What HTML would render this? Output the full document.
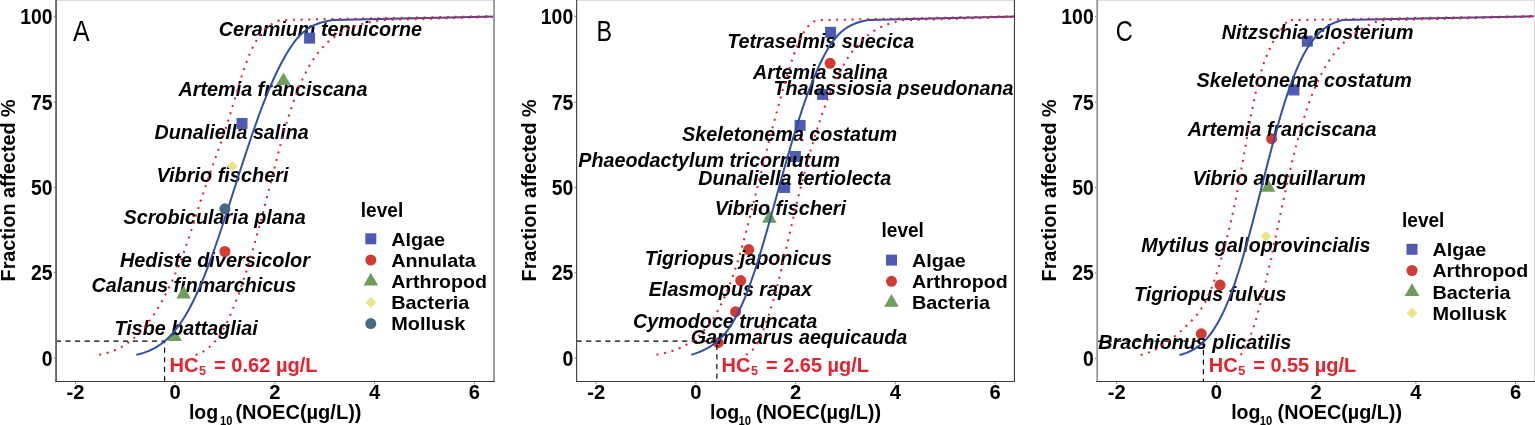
<!DOCTYPE html>
<html lang="en">
<head>
<meta charset="utf-8">
<title>Species sensitivity distributions</title>
<style>
html,body{margin:0;padding:0;background:#fff;}
body{width:1535px;height:425px;overflow:hidden;}
svg{display:block;}
text{white-space:pre;}
</style>
</head>
<body>
<svg width="1535" height="425" viewBox="0 0 1535 425">
<rect x="0" y="0" width="1535" height="425" fill="#ffffff"/>
<g>
<line x1="75.48" y1="381.80" x2="75.48" y2="384.10" stroke="#9a9a9a" stroke-width="1"/>
<text x="66.50" y="399.2" font-family="Liberation Sans, Arial, Helvetica, sans-serif" font-weight="bold" font-size="19.80" fill="#000" textLength="17.96" lengthAdjust="spacingAndGlyphs">-2</text>
<line x1="175.20" y1="381.80" x2="175.20" y2="384.10" stroke="#9a9a9a" stroke-width="1"/>
<text x="169.58" y="399.2" font-family="Liberation Sans, Arial, Helvetica, sans-serif" font-weight="bold" font-size="19.80" fill="#000" textLength="11.23" lengthAdjust="spacingAndGlyphs">0</text>
<line x1="274.92" y1="381.80" x2="274.92" y2="384.10" stroke="#9a9a9a" stroke-width="1"/>
<text x="269.30" y="399.2" font-family="Liberation Sans, Arial, Helvetica, sans-serif" font-weight="bold" font-size="19.80" fill="#000" textLength="11.23" lengthAdjust="spacingAndGlyphs">2</text>
<line x1="374.64" y1="381.80" x2="374.64" y2="384.10" stroke="#9a9a9a" stroke-width="1"/>
<text x="369.02" y="399.2" font-family="Liberation Sans, Arial, Helvetica, sans-serif" font-weight="bold" font-size="19.80" fill="#000" textLength="11.23" lengthAdjust="spacingAndGlyphs">4</text>
<line x1="474.36" y1="381.80" x2="474.36" y2="384.10" stroke="#9a9a9a" stroke-width="1"/>
<text x="468.74" y="399.2" font-family="Liberation Sans, Arial, Helvetica, sans-serif" font-weight="bold" font-size="19.80" fill="#000" textLength="11.23" lengthAdjust="spacingAndGlyphs">6</text>
<line x1="53.80" y1="358.20" x2="55.30" y2="358.20" stroke="#777" stroke-width="1"/>
<text x="41.71" y="365.80" font-family="Liberation Sans, Arial, Helvetica, sans-serif" font-weight="bold" font-size="21.30" fill="#000" textLength="10.79" lengthAdjust="spacingAndGlyphs">0</text>
<line x1="53.80" y1="272.85" x2="55.30" y2="272.85" stroke="#777" stroke-width="1"/>
<text x="30.93" y="280.45" font-family="Liberation Sans, Arial, Helvetica, sans-serif" font-weight="bold" font-size="21.30" fill="#000" textLength="21.57" lengthAdjust="spacingAndGlyphs">25</text>
<line x1="53.80" y1="187.50" x2="55.30" y2="187.50" stroke="#777" stroke-width="1"/>
<text x="30.93" y="195.10" font-family="Liberation Sans, Arial, Helvetica, sans-serif" font-weight="bold" font-size="21.30" fill="#000" textLength="21.57" lengthAdjust="spacingAndGlyphs">50</text>
<line x1="53.80" y1="102.15" x2="55.30" y2="102.15" stroke="#777" stroke-width="1"/>
<text x="30.93" y="109.75" font-family="Liberation Sans, Arial, Helvetica, sans-serif" font-weight="bold" font-size="21.30" fill="#000" textLength="21.57" lengthAdjust="spacingAndGlyphs">75</text>
<line x1="53.80" y1="16.80" x2="55.30" y2="16.80" stroke="#777" stroke-width="1"/>
<text x="20.14" y="24.40" font-family="Liberation Sans, Arial, Helvetica, sans-serif" font-weight="bold" font-size="21.30" fill="#000" textLength="32.36" lengthAdjust="spacingAndGlyphs">100</text>
<text x="188.90" y="418.7" font-family="Liberation Sans, Arial, Helvetica, sans-serif" font-weight="bold" font-size="19.30" fill="#000" textLength="29.3" lengthAdjust="spacingAndGlyphs">log</text>
<text x="220.00" y="425.4" font-family="Liberation Sans, Arial, Helvetica, sans-serif" font-weight="bold" font-size="12.8" fill="#000" textLength="12.4" lengthAdjust="spacingAndGlyphs">10</text>
<text x="235.40" y="418.7" font-family="Liberation Sans, Arial, Helvetica, sans-serif" font-weight="bold" font-size="19.30" fill="#000" textLength="126.1" lengthAdjust="spacingAndGlyphs">(NOEC(µg/L))</text>
<text transform="translate(14.80,190.4) rotate(-90)" text-anchor="middle" font-family="Liberation Sans, Arial, Helvetica, sans-serif" font-weight="bold" font-size="20.80" fill="#000" textLength="182" lengthAdjust="spacingAndGlyphs">Fraction affected %</text>
<clipPath id="clipA"><rect x="55.80" y="0.50" width="438.60" height="380.80"/></clipPath>
<g clip-path="url(#clipA)">
<text x="73.00" y="40.6" font-family="Liberation Sans, Arial, Helvetica, sans-serif" font-size="29.6" fill="#000" textLength="16.60" lengthAdjust="spacingAndGlyphs">A</text>
<polygon points="174.60,328.43 167.30,341.08 181.90,341.08" fill="#6f9d5c"/>
<text x="218.70" y="35.80" font-family="Liberation Sans, Arial, Helvetica, sans-serif" font-weight="bold" font-style="italic" font-size="19.70" fill="#000" textLength="203.30" lengthAdjust="spacingAndGlyphs">Ceramium tenuicorne</text>
<text x="178.60" y="96.40" font-family="Liberation Sans, Arial, Helvetica, sans-serif" font-weight="bold" font-style="italic" font-size="19.70" fill="#000" textLength="188.80" lengthAdjust="spacingAndGlyphs">Artemia franciscana</text>
<text x="154.50" y="138.70" font-family="Liberation Sans, Arial, Helvetica, sans-serif" font-weight="bold" font-style="italic" font-size="19.70" fill="#000" textLength="154.20" lengthAdjust="spacingAndGlyphs">Dunaliella salina</text>
<text x="156.50" y="182.00" font-family="Liberation Sans, Arial, Helvetica, sans-serif" font-weight="bold" font-style="italic" font-size="19.70" fill="#000" textLength="132.00" lengthAdjust="spacingAndGlyphs">Vibrio fischeri</text>
<text x="123.50" y="224.40" font-family="Liberation Sans, Arial, Helvetica, sans-serif" font-weight="bold" font-style="italic" font-size="19.70" fill="#000" textLength="182.30" lengthAdjust="spacingAndGlyphs">Scrobicularia plana</text>
<text x="119.90" y="267.40" font-family="Liberation Sans, Arial, Helvetica, sans-serif" font-weight="bold" font-style="italic" font-size="19.70" fill="#000" textLength="190.00" lengthAdjust="spacingAndGlyphs">Hediste diversicolor</text>
<text x="91.60" y="291.50" font-family="Liberation Sans, Arial, Helvetica, sans-serif" font-weight="bold" font-style="italic" font-size="19.70" fill="#000" textLength="204.50" lengthAdjust="spacingAndGlyphs">Calanus finmarchicus</text>
<text x="114.50" y="334.50" font-family="Liberation Sans, Arial, Helvetica, sans-serif" font-weight="bold" font-style="italic" font-size="19.70" fill="#000" textLength="143.30" lengthAdjust="spacingAndGlyphs">Tisbe battagliai</text>
<path d="M55.80,341.13 H164.60 V381.30" fill="none" stroke="#000" stroke-width="1.15" stroke-dasharray="5.2 4.4"/>
<path d="M136.31,354.80 L137.02,354.64 L137.73,354.48 L138.44,354.30 L139.15,354.13 L139.86,353.94 L140.57,353.75 L141.27,353.55 L141.98,353.34 L142.69,353.13 L143.39,352.90 L144.10,352.67 L144.81,352.43 L145.52,352.18 L146.22,351.93 L146.93,351.66 L147.63,351.38 L148.34,351.10 L149.05,350.80 L149.75,350.49 L150.46,350.18 L151.17,349.85 L151.87,349.51 L152.58,349.16 L153.28,348.80 L153.99,348.42 L154.70,348.04 L155.40,347.64 L156.11,347.23 L156.81,346.80 L157.52,346.37 L158.22,345.91 L158.93,345.45 L159.64,344.97 L160.34,344.48 L161.04,343.98 L161.71,343.48 L162.37,342.98 L163.01,342.48 L163.64,341.98 L164.24,341.48 L164.84,340.98 L165.42,340.48 L165.99,339.98 L166.55,339.48 L167.09,338.98 L167.63,338.48 L168.15,337.98 L168.66,337.48 L169.17,336.98 L169.66,336.48 L170.15,335.98 L170.63,335.48 L171.10,334.98 L171.56,334.48 L172.02,333.98 L172.47,333.48 L172.91,332.98 L173.34,332.48 L173.77,331.98 L174.20,331.48 L174.61,330.98 L175.02,330.48 L175.43,329.98 L175.83,329.48 L176.23,328.98 L176.62,328.48 L177.00,327.98 L177.38,327.48 L177.76,326.98 L178.13,326.48 L178.50,325.98 L178.86,325.48 L179.22,324.98 L179.58,324.48 L179.93,323.98 L180.28,323.48 L180.62,322.98 L180.96,322.48 L181.30,321.98 L181.64,321.48 L181.97,320.98 L182.30,320.48 L182.62,319.98 L182.94,319.48 L183.26,318.98 L183.58,318.48 L183.89,317.98 L184.21,317.48 L184.51,316.98 L184.82,316.48 L185.12,315.98 L185.42,315.48 L185.72,314.98 L186.02,314.48 L186.31,313.98 L186.61,313.48 L186.89,312.98 L187.18,312.48 L187.47,311.98 L187.75,311.48 L188.03,310.98 L188.31,310.48 L188.59,309.98 L188.86,309.48 L189.14,308.98 L189.41,308.48 L189.68,307.98 L189.95,307.48 L190.21,306.98 L190.48,306.48 L190.74,305.98 L191.00,305.48 L191.26,304.98 L191.52,304.48 L191.78,303.98 L192.03,303.48 L192.29,302.98 L192.54,302.48 L192.79,301.98 L193.04,301.48 L193.29,300.98 L193.54,300.48 L193.78,299.98 L194.02,299.48 L194.27,298.98 L194.51,298.48 L194.75,297.98 L194.99,297.48 L195.23,296.98 L195.46,296.48 L195.70,295.98 L195.93,295.48 L196.17,294.98 L196.40,294.48 L196.63,293.98 L196.86,293.48 L197.09,292.98 L197.32,292.48 L197.54,291.98 L197.77,291.48 L198.00,290.98 L198.22,290.48 L198.44,289.98 L198.66,289.48 L198.89,288.98 L199.11,288.48 L199.33,287.98 L199.54,287.48 L199.76,286.98 L199.98,286.48 L200.19,285.98 L200.41,285.48 L200.62,284.98 L200.84,284.48 L201.05,283.98 L201.26,283.48 L201.47,282.98 L201.68,282.48 L201.89,281.98 L202.10,281.48 L202.31,280.98 L202.51,280.48 L202.72,279.98 L202.93,279.48 L203.13,278.98 L203.34,278.48 L203.54,277.98 L203.74,277.48 L203.95,276.98 L204.15,276.48 L204.35,275.98 L204.55,275.48 L204.75,274.98 L204.95,274.48 L205.15,273.98 L205.34,273.48 L205.54,272.98 L205.74,272.48 L205.93,271.98 L206.13,271.48 L206.33,270.98 L206.52,270.48 L206.71,269.98 L206.91,269.48 L207.10,268.98 L207.29,268.48 L207.48,267.98 L207.68,267.48 L207.87,266.98 L208.06,266.48 L208.25,265.98 L208.44,265.48 L208.62,264.98 L208.81,264.48 L209.00,263.98 L209.19,263.48 L209.38,262.98 L209.56,262.48 L209.75,261.98 L209.93,261.48 L210.12,260.98 L210.30,260.48 L210.49,259.98 L210.67,259.48 L210.86,258.98 L211.04,258.48 L211.22,257.98 L211.40,257.48 L211.59,256.98 L211.77,256.48 L211.95,255.98 L212.13,255.48 L212.31,254.98 L212.49,254.48 L212.67,253.98 L212.85,253.48 L213.03,252.98 L213.21,252.48 L213.38,251.98 L213.56,251.48 L213.74,250.98 L213.92,250.48 L214.09,249.98 L214.27,249.48 L214.45,248.98 L214.62,248.48 L214.80,247.98 L214.97,247.48 L215.15,246.98 L215.32,246.48 L215.50,245.98 L215.67,245.48 L215.85,244.98 L216.02,244.48 L216.19,243.98 L216.37,243.48 L216.54,242.98 L216.71,242.48 L216.88,241.98 L217.06,241.48 L217.23,240.98 L217.40,240.48 L217.57,239.98 L217.74,239.48 L217.91,238.98 L218.08,238.48 L218.25,237.98 L218.42,237.48 L218.59,236.98 L218.76,236.48 L218.93,235.98 L219.10,235.48 L219.27,234.98 L219.44,234.48 L219.61,233.98 L219.78,233.48 L219.95,232.98 L220.11,232.48 L220.28,231.98 L220.45,231.48 L220.62,230.98 L220.78,230.48 L220.95,229.98 L221.12,229.48 L221.28,228.98 L221.45,228.48 L221.62,227.98 L221.78,227.48 L221.95,226.98 L222.11,226.48 L222.28,225.98 L222.44,225.48 L222.61,224.98 L222.78,224.48 L222.94,223.98 L223.11,223.48 L223.27,222.98 L223.43,222.48 L223.60,221.98 L223.76,221.48 L223.93,220.98 L224.09,220.48 L224.26,219.98 L224.42,219.48 L224.58,218.98 L224.75,218.48 L224.91,217.98 L225.07,217.48 L225.24,216.98 L225.40,216.48 L225.56,215.98 L225.72,215.48 L225.89,214.98 L226.05,214.48 L226.21,213.98 L226.37,213.48 L226.54,212.98 L226.70,212.48 L226.86,211.98 L227.02,211.48 L227.19,210.98 L227.35,210.48 L227.51,209.98 L227.67,209.48 L227.83,208.98 L227.99,208.48 L228.16,207.98 L228.32,207.48 L228.48,206.98 L228.64,206.48 L228.80,205.98 L228.96,205.48 L229.12,204.98 L229.28,204.48 L229.45,203.98 L229.61,203.48 L229.77,202.98 L229.93,202.48 L230.09,201.98 L230.25,201.48 L230.41,200.98 L230.57,200.48 L230.73,199.98 L230.89,199.48 L231.05,198.98 L231.21,198.48 L231.37,197.98 L231.54,197.48 L231.70,196.98 L231.86,196.48 L232.02,195.98 L232.18,195.48 L232.34,194.98 L232.50,194.48 L232.66,193.98 L232.82,193.48 L232.98,192.98 L233.14,192.48 L233.30,191.98 L233.46,191.48 L233.62,190.98 L233.78,190.48 L233.94,189.98 L234.10,189.48 L234.26,188.98 L234.42,188.48 L234.58,187.98 L234.74,187.48 L234.90,186.98 L235.06,186.48 L235.22,185.98 L235.39,185.48 L235.55,184.98 L235.71,184.48 L235.87,183.98 L236.03,183.48 L236.19,182.98 L236.35,182.48 L236.51,181.98 L236.67,181.48 L236.83,180.98 L236.99,180.48 L237.15,179.98 L237.31,179.48 L237.47,178.98 L237.63,178.48 L237.80,177.98 L237.96,177.48 L238.12,176.98 L238.28,176.48 L238.44,175.98 L238.60,175.48 L238.76,174.98 L238.92,174.48 L239.08,173.98 L239.25,173.48 L239.41,172.98 L239.57,172.48 L239.73,171.98 L239.89,171.48 L240.05,170.98 L240.22,170.48 L240.38,169.98 L240.54,169.48 L240.70,168.98 L240.86,168.48 L241.03,167.98 L241.19,167.48 L241.35,166.98 L241.51,166.48 L241.67,165.98 L241.84,165.48 L242.00,164.98 L242.16,164.48 L242.33,163.98 L242.49,163.48 L242.65,162.98 L242.81,162.48 L242.98,161.98 L243.14,161.48 L243.30,160.98 L243.47,160.48 L243.63,159.98 L243.80,159.48 L243.96,158.98 L244.12,158.48 L244.29,157.98 L244.45,157.48 L244.62,156.98 L244.78,156.48 L244.94,155.98 L245.11,155.48 L245.27,154.98 L245.44,154.48 L245.60,153.98 L245.77,153.48 L245.93,152.98 L246.10,152.48 L246.27,151.98 L246.43,151.48 L246.60,150.98 L246.76,150.48 L246.93,149.98 L247.10,149.48 L247.26,148.98 L247.43,148.48 L247.60,147.98 L247.76,147.48 L247.93,146.98 L248.10,146.48 L248.27,145.98 L248.43,145.48 L248.60,144.98 L248.77,144.48 L248.94,143.98 L249.11,143.48 L249.27,142.98 L249.44,142.48 L249.61,141.98 L249.78,141.48 L249.95,140.98 L250.12,140.48 L250.29,139.98 L250.46,139.48 L250.63,138.98 L250.80,138.48 L250.97,137.98 L251.14,137.48 L251.31,136.98 L251.48,136.48 L251.65,135.98 L251.83,135.48 L252.00,134.98 L252.17,134.48 L252.34,133.98 L252.52,133.48 L252.69,132.98 L252.86,132.48 L253.03,131.98 L253.21,131.48 L253.38,130.98 L253.56,130.48 L253.73,129.98 L253.90,129.48 L254.08,128.98 L254.25,128.48 L254.43,127.98 L254.60,127.48 L254.78,126.98 L254.96,126.48 L255.13,125.98 L255.31,125.48 L255.49,124.98 L255.66,124.48 L255.84,123.98 L256.02,123.48 L256.20,122.98 L256.38,122.48 L256.55,121.98 L256.73,121.48 L256.91,120.98 L257.09,120.48 L257.27,119.98 L257.45,119.48 L257.63,118.98 L257.81,118.48 L258.00,117.98 L258.18,117.48 L258.36,116.98 L258.54,116.48 L258.72,115.98 L258.91,115.48 L259.09,114.98 L259.28,114.48 L259.46,113.98 L259.64,113.48 L259.83,112.98 L260.01,112.48 L260.20,111.98 L260.39,111.48 L260.57,110.98 L260.76,110.48 L260.95,109.98 L261.13,109.48 L261.32,108.98 L261.51,108.48 L261.70,107.98 L261.89,107.48 L262.08,106.98 L262.27,106.48 L262.46,105.98 L262.65,105.48 L262.84,104.98 L263.03,104.48 L263.23,103.98 L263.42,103.48 L263.61,102.98 L263.81,102.48 L264.00,101.98 L264.20,101.48 L264.39,100.98 L264.59,100.48 L264.78,99.98 L264.98,99.48 L265.18,98.98 L265.38,98.48 L265.58,97.98 L265.77,97.48 L265.97,96.98 L266.17,96.48 L266.38,95.98 L266.58,95.48 L266.78,94.98 L266.98,94.48 L267.18,93.98 L267.39,93.48 L267.59,92.98 L267.80,92.48 L268.00,91.98 L268.21,91.48 L268.42,90.98 L268.62,90.48 L268.83,89.98 L269.04,89.48 L269.25,88.98 L269.46,88.48 L269.67,87.98 L269.88,87.48 L270.10,86.98 L270.31,86.48 L270.52,85.98 L270.74,85.48 L270.95,84.98 L271.17,84.48 L271.39,83.98 L271.60,83.48 L271.82,82.98 L272.04,82.48 L272.26,81.98 L272.48,81.48 L272.70,80.98 L272.93,80.48 L273.15,79.98 L273.37,79.48 L273.60,78.98 L273.83,78.48 L274.05,77.98 L274.28,77.48 L274.51,76.98 L274.74,76.48 L274.97,75.98 L275.20,75.48 L275.44,74.98 L275.67,74.48 L275.91,73.98 L276.14,73.48 L276.38,72.98 L276.62,72.48 L276.86,71.98 L277.10,71.48 L277.34,70.98 L277.58,70.48 L277.83,69.98 L278.07,69.48 L278.32,68.98 L278.57,68.48 L278.81,67.98 L279.06,67.48 L279.32,66.98 L279.57,66.48 L279.82,65.98 L280.08,65.48 L280.34,64.98 L280.60,64.48 L280.86,63.98 L281.12,63.48 L281.38,62.98 L281.64,62.48 L281.91,61.98 L282.18,61.48 L282.45,60.98 L282.72,60.48 L282.99,59.98 L283.27,59.48 L283.54,58.98 L283.82,58.48 L284.10,57.98 L284.38,57.48 L284.67,56.98 L284.95,56.48 L285.24,55.98 L285.53,55.48 L285.82,54.98 L286.11,54.48 L286.41,53.98 L286.71,53.48 L287.01,52.98 L287.31,52.48 L287.62,51.98 L287.93,51.48 L288.24,50.98 L288.55,50.48 L288.87,49.98 L289.19,49.48 L289.51,48.98 L289.83,48.48 L290.16,47.98 L290.49,47.48 L290.82,46.98 L291.16,46.48 L291.50,45.98 L291.84,45.48 L292.19,44.98 L292.55,44.48 L292.90,43.98 L293.26,43.48 L293.63,42.98 L294.00,42.48 L294.38,41.98 L294.76,41.48 L295.15,40.98 L295.54,40.48 L295.94,39.98 L296.35,39.48 L296.76,38.98 L297.18,38.48 L297.61,37.98 L298.05,37.48 L298.50,36.98 L298.96,36.48 L299.42,35.98 L299.90,35.48 L300.39,34.98 L300.89,34.48 L301.40,33.98 L301.93,33.48 L302.47,32.98 L303.03,32.48 L303.61,31.98 L304.20,31.48 L304.82,30.98 L305.45,30.48 L306.12,29.98 L306.80,29.48 L307.52,28.98 L308.24,28.49 L308.97,28.02 L309.70,27.58 L310.42,27.15 L311.15,26.74 L311.88,26.35 L312.60,25.98 L313.33,25.62 L314.05,25.27 L314.78,24.95 L315.50,24.63 L316.23,24.33 L316.95,24.05 L317.68,23.77 L318.40,23.51 L319.13,23.26 L319.85,23.02 L320.57,22.79 L321.30,22.57 L322.02,22.36 L322.74,22.16 L323.46,21.97 L324.18,21.79 L324.90,21.61 L325.62,21.44 L326.34,21.28 L327.06,21.13 L327.78,20.98 L328.50,20.84 L329.22,20.70 L329.94,20.57 L330.66,20.44 L331.37,20.32 L332.09,20.21 L332.80,20.10 L333.45,20.00 L560.40,14.95" fill="none" stroke-linejoin="round" stroke="#2f4fa8" stroke-width="2"/>
<path d="M99.21,354.80 L99.92,354.66 L100.63,354.51 L101.34,354.36 L102.05,354.20 L102.76,354.03 L103.47,353.86 L104.18,353.69 L104.89,353.50 L105.60,353.31 L106.31,353.12 L107.01,352.92 L107.72,352.71 L108.43,352.49 L109.14,352.27 L109.85,352.04 L110.55,351.80 L111.26,351.55 L111.97,351.30 L112.67,351.03 L113.38,350.76 L114.09,350.48 L114.80,350.19 L115.50,349.90 L116.21,349.59 L116.92,349.27 L117.62,348.95 L118.33,348.61 L119.04,348.27 L119.74,347.91 L120.45,347.54 L121.16,347.16 L121.87,346.78 L122.57,346.38 L123.28,345.97 L123.99,345.54 L124.69,345.11 L125.40,344.66 L126.11,344.20 L126.81,343.73 L127.52,343.25 L128.23,342.75 L128.92,342.25 L129.60,341.75 L130.26,341.25 L130.90,340.75 L131.53,340.25 L132.15,339.75 L132.76,339.25 L133.35,338.75 L133.93,338.25 L134.50,337.75 L135.06,337.25 L135.61,336.75 L136.15,336.25 L136.68,335.75 L137.20,335.25 L137.71,334.75 L138.22,334.25 L138.71,333.75 L139.20,333.25 L139.68,332.75 L140.16,332.25 L140.63,331.75 L141.09,331.25 L141.54,330.75 L141.99,330.25 L142.44,329.75 L142.88,329.25 L143.31,328.75 L143.74,328.25 L144.16,327.75 L144.58,327.25 L144.99,326.75 L145.40,326.25 L145.80,325.75 L146.20,325.25 L146.59,324.75 L146.98,324.25 L147.37,323.75 L147.75,323.25 L148.13,322.75 L148.51,322.25 L148.88,321.75 L149.25,321.25 L149.61,320.75 L149.98,320.25 L150.33,319.75 L150.69,319.25 L151.04,318.75 L151.39,318.25 L151.74,317.75 L152.08,317.25 L152.42,316.75 L152.76,316.25 L153.09,315.75 L153.43,315.25 L153.76,314.75 L154.08,314.25 L154.41,313.75 L154.73,313.25 L155.05,312.75 L155.37,312.25 L155.69,311.75 L156.00,311.25 L156.31,310.75 L156.62,310.25 L156.93,309.75 L157.24,309.25 L157.54,308.75 L157.84,308.25 L158.14,307.75 L158.44,307.25 L158.74,306.75 L159.03,306.25 L159.32,305.75 L159.61,305.25 L159.90,304.75 L160.19,304.25 L160.48,303.75 L160.76,303.25 L161.04,302.75 L161.33,302.25 L161.61,301.75 L161.88,301.25 L162.16,300.75 L162.44,300.25 L162.71,299.75 L162.98,299.25 L163.26,298.75 L163.53,298.25 L163.80,297.75 L164.06,297.25 L164.33,296.75 L164.59,296.25 L164.86,295.75 L165.12,295.25 L165.38,294.75 L165.64,294.25 L165.90,293.75 L166.16,293.25 L166.41,292.75 L166.67,292.25 L166.92,291.75 L167.17,291.25 L167.43,290.75 L167.68,290.25 L167.92,289.75 L168.17,289.25 L168.42,288.75 L168.66,288.25 L168.91,287.75 L169.15,287.25 L169.39,286.75 L169.64,286.25 L169.88,285.75 L170.11,285.25 L170.35,284.75 L170.59,284.25 L170.82,283.75 L171.06,283.25 L171.29,282.75 L171.53,282.25 L171.76,281.75 L171.99,281.25 L172.22,280.75 L172.45,280.25 L172.67,279.75 L172.90,279.25 L173.12,278.75 L173.35,278.25 L173.57,277.75 L173.80,277.25 L174.02,276.75 L174.24,276.25 L174.46,275.75 L174.68,275.25 L174.89,274.75 L175.11,274.25 L175.33,273.75 L175.54,273.25 L175.76,272.75 L175.97,272.25 L176.18,271.75 L176.39,271.25 L176.60,270.75 L176.81,270.25 L177.02,269.75 L177.23,269.25 L177.44,268.75 L177.64,268.25 L177.85,267.75 L178.05,267.25 L178.26,266.75 L178.46,266.25 L178.66,265.75 L178.86,265.25 L179.06,264.75 L179.26,264.25 L179.46,263.75 L179.66,263.25 L179.86,262.75 L180.05,262.25 L180.25,261.75 L180.44,261.25 L180.64,260.75 L180.83,260.25 L181.02,259.75 L181.22,259.25 L181.41,258.75 L181.60,258.25 L181.79,257.75 L181.97,257.25 L182.16,256.75 L182.35,256.25 L182.53,255.75 L182.72,255.25 L182.91,254.75 L183.09,254.25 L183.27,253.75 L183.46,253.25 L183.64,252.75 L183.82,252.25 L184.00,251.75 L184.18,251.25 L184.36,250.75 L184.54,250.25 L184.72,249.75 L184.90,249.25 L185.07,248.75 L185.25,248.25 L185.43,247.75 L185.60,247.25 L185.78,246.75 L185.95,246.25 L186.13,245.75 L186.30,245.25 L186.47,244.75 L186.64,244.25 L186.82,243.75 L186.99,243.25 L187.16,242.75 L187.33,242.25 L187.50,241.75 L187.67,241.25 L187.84,240.75 L188.01,240.25 L188.18,239.75 L188.35,239.25 L188.52,238.75 L188.68,238.25 L188.85,237.75 L189.02,237.25 L189.19,236.75 L189.35,236.25 L189.52,235.75 L189.68,235.25 L189.85,234.75 L190.01,234.25 L190.18,233.75 L190.34,233.25 L190.51,232.75 L190.67,232.25 L190.84,231.75 L191.00,231.25 L191.16,230.75 L191.33,230.25 L191.49,229.75 L191.65,229.25 L191.81,228.75 L191.98,228.25 L192.14,227.75 L192.30,227.25 L192.46,226.75 L192.62,226.25 L192.78,225.75 L192.95,225.25 L193.11,224.75 L193.27,224.25 L193.43,223.75 L193.59,223.25 L193.75,222.75 L193.91,222.25 L194.07,221.75 L194.23,221.25 L194.39,220.75 L194.55,220.25 L194.71,219.75 L194.87,219.25 L195.03,218.75 L195.19,218.25 L195.35,217.75 L195.51,217.25 L195.67,216.75 L195.83,216.25 L195.98,215.75 L196.14,215.25 L196.30,214.75 L196.46,214.25 L196.62,213.75 L196.78,213.25 L196.94,212.75 L197.10,212.25 L197.26,211.75 L197.42,211.25 L197.58,210.75 L197.74,210.25 L197.89,209.75 L198.05,209.25 L198.21,208.75 L198.37,208.25 L198.53,207.75 L198.69,207.25 L198.85,206.75 L199.01,206.25 L199.17,205.75 L199.33,205.25 L199.49,204.75 L199.65,204.25 L199.81,203.75 L199.97,203.25 L200.13,202.75 L200.29,202.25 L200.45,201.75 L200.61,201.25 L200.77,200.75 L200.93,200.25 L201.09,199.75 L201.26,199.25 L201.42,198.75 L201.58,198.25 L201.74,197.75 L201.90,197.25 L202.07,196.75 L202.23,196.25 L202.39,195.75 L202.55,195.25 L202.72,194.75 L202.88,194.25 L203.04,193.75 L203.21,193.25 L203.37,192.75 L203.53,192.25 L203.70,191.75 L203.86,191.25 L204.03,190.75 L204.19,190.25 L204.36,189.75 L204.52,189.25 L204.69,188.75 L204.85,188.25 L205.02,187.75 L205.19,187.25 L205.35,186.75 L205.52,186.25 L205.69,185.75 L205.86,185.25 L206.03,184.75 L206.19,184.25 L206.36,183.75 L206.53,183.25 L206.70,182.75 L206.87,182.25 L207.04,181.75 L207.21,181.25 L207.38,180.75 L207.56,180.25 L207.73,179.75 L207.90,179.25 L208.07,178.75 L208.25,178.25 L208.42,177.75 L208.59,177.25 L208.77,176.75 L208.94,176.25 L209.12,175.75 L209.29,175.25 L209.47,174.75 L209.64,174.25 L209.82,173.75 L209.99,173.25 L210.17,172.75 L210.35,172.25 L210.52,171.75 L210.70,171.25 L210.88,170.75 L211.05,170.25 L211.23,169.75 L211.41,169.25 L211.59,168.75 L211.77,168.25 L211.95,167.75 L212.12,167.25 L212.30,166.75 L212.48,166.25 L212.66,165.75 L212.84,165.25 L213.02,164.75 L213.20,164.25 L213.38,163.75 L213.56,163.25 L213.74,162.75 L213.92,162.25 L214.10,161.75 L214.28,161.25 L214.46,160.75 L214.64,160.25 L214.82,159.75 L215.00,159.25 L215.18,158.75 L215.36,158.25 L215.54,157.75 L215.72,157.25 L215.90,156.75 L216.08,156.25 L216.26,155.75 L216.44,155.25 L216.62,154.75 L216.80,154.25 L216.97,153.75 L217.15,153.25 L217.33,152.75 L217.51,152.25 L217.69,151.75 L217.87,151.25 L218.05,150.75 L218.23,150.25 L218.40,149.75 L218.58,149.25 L218.76,148.75 L218.94,148.25 L219.12,147.75 L219.29,147.25 L219.47,146.75 L219.65,146.25 L219.82,145.75 L220.00,145.25 L220.17,144.75 L220.35,144.25 L220.52,143.75 L220.70,143.25 L220.87,142.75 L221.05,142.25 L221.22,141.75 L221.39,141.25 L221.57,140.75 L221.74,140.25 L221.91,139.75 L222.08,139.25 L222.25,138.75 L222.42,138.25 L222.59,137.75 L222.76,137.25 L222.93,136.75 L223.10,136.25 L223.27,135.75 L223.44,135.25 L223.60,134.75 L223.77,134.25 L223.94,133.75 L224.10,133.25 L224.27,132.75 L224.43,132.25 L224.60,131.75 L224.76,131.25 L224.93,130.75 L225.09,130.25 L225.25,129.75 L225.42,129.25 L225.58,128.75 L225.74,128.25 L225.90,127.75 L226.07,127.25 L226.23,126.75 L226.39,126.25 L226.55,125.75 L226.71,125.25 L226.87,124.75 L227.03,124.25 L227.19,123.75 L227.35,123.25 L227.50,122.75 L227.66,122.25 L227.82,121.75 L227.98,121.25 L228.14,120.75 L228.29,120.25 L228.45,119.75 L228.61,119.25 L228.76,118.75 L228.92,118.25 L229.07,117.75 L229.23,117.25 L229.38,116.75 L229.54,116.25 L229.69,115.75 L229.85,115.25 L230.00,114.75 L230.16,114.25 L230.31,113.75 L230.46,113.25 L230.62,112.75 L230.77,112.25 L230.92,111.75 L231.07,111.25 L231.23,110.75 L231.38,110.25 L231.53,109.75 L231.68,109.25 L231.83,108.75 L231.99,108.25 L232.14,107.75 L232.29,107.25 L232.44,106.75 L232.59,106.25 L232.74,105.75 L232.89,105.25 L233.04,104.75 L233.19,104.25 L233.34,103.75 L233.49,103.25 L233.64,102.75 L233.79,102.25 L233.94,101.75 L234.09,101.25 L234.24,100.75 L234.39,100.25 L234.54,99.75 L234.69,99.25 L234.84,98.75 L234.99,98.25 L235.14,97.75 L235.29,97.25 L235.44,96.75 L235.59,96.25 L235.74,95.75 L235.89,95.25 L236.03,94.75 L236.18,94.25 L236.33,93.75 L236.48,93.25 L236.63,92.75 L236.78,92.25 L236.93,91.75 L237.08,91.25 L237.23,90.75 L237.38,90.25 L237.53,89.75 L237.68,89.25 L237.83,88.75 L237.98,88.25 L238.14,87.75 L238.29,87.25 L238.44,86.75 L238.59,86.25 L238.74,85.75 L238.89,85.25 L239.04,84.75 L239.20,84.25 L239.35,83.75 L239.50,83.25 L239.66,82.75 L239.81,82.25 L239.96,81.75 L240.12,81.25 L240.27,80.75 L240.43,80.25 L240.58,79.75 L240.74,79.25 L240.89,78.75 L241.05,78.25 L241.21,77.75 L241.37,77.25 L241.52,76.75 L241.68,76.25 L241.84,75.75 L242.00,75.25 L242.16,74.75 L242.32,74.25 L242.48,73.75 L242.65,73.25 L242.81,72.75 L242.97,72.25 L243.14,71.75 L243.30,71.25 L243.47,70.75 L243.64,70.25 L243.80,69.75 L243.97,69.25 L244.14,68.75 L244.31,68.25 L244.48,67.75 L244.66,67.25 L244.83,66.75 L245.00,66.25 L245.18,65.75 L245.36,65.25 L245.53,64.75 L245.71,64.25 L245.89,63.75 L246.07,63.25 L246.26,62.75 L246.44,62.25 L246.63,61.75 L246.81,61.25 L247.00,60.75 L247.19,60.25 L247.38,59.75 L247.58,59.25 L247.77,58.75 L247.97,58.25 L248.16,57.75 L248.36,57.25 L248.56,56.75 L248.77,56.25 L248.97,55.75 L249.18,55.25 L249.39,54.75 L249.60,54.25 L249.81,53.75 L250.02,53.25 L250.24,52.75 L250.46,52.25 L250.68,51.75 L250.90,51.25 L251.13,50.75 L251.35,50.25 L251.59,49.75 L251.82,49.25 L252.05,48.75 L252.29,48.25 L252.53,47.75 L252.78,47.25 L253.02,46.75 L253.27,46.25 L253.53,45.75 L253.78,45.25 L254.04,44.75 L254.31,44.25 L254.58,43.75 L254.85,43.25 L255.12,42.75 L255.40,42.25 L255.69,41.75 L255.97,41.25 L256.27,40.75 L256.56,40.25 L256.87,39.75 L257.17,39.25 L257.49,38.75 L257.81,38.25 L258.13,37.75 L258.46,37.25 L258.80,36.75 L259.15,36.25 L259.50,35.75 L259.86,35.25 L260.23,34.75 L260.61,34.25 L260.99,33.75 L261.39,33.25 L261.79,32.75 L262.21,32.25 L262.64,31.75 L263.08,31.25 L263.53,30.75 L264.00,30.25 L264.48,29.75 L264.98,29.25 L265.49,28.75 L266.03,28.25 L266.59,27.75 L267.16,27.25 L267.77,26.75 L268.40,26.25 L269.06,25.75 L269.75,25.25 L270.48,24.75 L271.21,24.28 L271.94,23.84 L272.67,23.41 L273.40,23.02 L274.13,22.64 L274.86,22.28 L275.59,21.95 L276.32,21.63 L277.05,21.33 L277.78,21.05 L278.50,20.79 L279.23,20.54 L279.96,20.31 L280.68,20.09 L280.98,20.00 L560.40,14.95" fill="none" stroke-linejoin="round" stroke="#ec1c24" stroke-width="2" stroke-dasharray="2 5.7"/>
<path d="M195.50,354.90 L196.20,354.68 L196.90,354.44 L197.61,354.19 L198.31,353.92 L199.01,353.64 L199.71,353.34 L200.41,353.03 L201.11,352.70 L201.81,352.35 L202.51,351.98 L203.21,351.59 L203.92,351.18 L204.62,350.75 L205.32,350.30 L206.02,349.82 L206.72,349.33 L207.39,348.83 L208.03,348.33 L208.65,347.83 L209.25,347.33 L209.82,346.83 L210.37,346.33 L210.91,345.83 L211.42,345.33 L211.93,344.83 L212.41,344.33 L212.89,343.83 L213.35,343.33 L213.80,342.83 L214.24,342.33 L214.67,341.83 L215.09,341.33 L215.50,340.83 L215.90,340.33 L216.29,339.83 L216.68,339.33 L217.06,338.83 L217.43,338.33 L217.79,337.83 L218.15,337.33 L218.50,336.83 L218.85,336.33 L219.19,335.83 L219.52,335.33 L219.86,334.83 L220.18,334.33 L220.50,333.83 L220.82,333.33 L221.13,332.83 L221.44,332.33 L221.74,331.83 L222.04,331.33 L222.34,330.83 L222.63,330.33 L222.92,329.83 L223.20,329.33 L223.48,328.83 L223.76,328.33 L224.04,327.83 L224.31,327.33 L224.58,326.83 L224.85,326.33 L225.12,325.83 L225.38,325.33 L225.64,324.83 L225.90,324.33 L226.15,323.83 L226.40,323.33 L226.65,322.83 L226.90,322.33 L227.15,321.83 L227.39,321.33 L227.63,320.83 L227.88,320.33 L228.11,319.83 L228.35,319.33 L228.58,318.83 L228.82,318.33 L229.05,317.83 L229.28,317.33 L229.51,316.83 L229.73,316.33 L229.96,315.83 L230.18,315.33 L230.40,314.83 L230.62,314.33 L230.84,313.83 L231.06,313.33 L231.28,312.83 L231.49,312.33 L231.70,311.83 L231.92,311.33 L232.13,310.83 L232.34,310.33 L232.55,309.83 L232.76,309.33 L232.96,308.83 L233.17,308.33 L233.37,307.83 L233.57,307.33 L233.78,306.83 L233.98,306.33 L234.18,305.83 L234.38,305.33 L234.58,304.83 L234.77,304.33 L234.97,303.83 L235.17,303.33 L235.36,302.83 L235.55,302.33 L235.75,301.83 L235.94,301.33 L236.13,300.83 L236.32,300.33 L236.51,299.83 L236.70,299.33 L236.89,298.83 L237.08,298.33 L237.26,297.83 L237.45,297.33 L237.63,296.83 L237.82,296.33 L238.00,295.83 L238.19,295.33 L238.37,294.83 L238.55,294.33 L238.73,293.83 L238.91,293.33 L239.09,292.83 L239.27,292.33 L239.45,291.83 L239.63,291.33 L239.81,290.83 L239.98,290.33 L240.16,289.83 L240.34,289.33 L240.51,288.83 L240.69,288.33 L240.86,287.83 L241.03,287.33 L241.21,286.83 L241.38,286.33 L241.55,285.83 L241.72,285.33 L241.89,284.83 L242.06,284.33 L242.23,283.83 L242.40,283.33 L242.57,282.83 L242.74,282.33 L242.91,281.83 L243.07,281.33 L243.24,280.83 L243.40,280.33 L243.57,279.83 L243.74,279.33 L243.90,278.83 L244.06,278.33 L244.23,277.83 L244.39,277.33 L244.56,276.83 L244.72,276.33 L244.88,275.83 L245.04,275.33 L245.20,274.83 L245.36,274.33 L245.52,273.83 L245.68,273.33 L245.84,272.83 L246.00,272.33 L246.16,271.83 L246.32,271.33 L246.48,270.83 L246.64,270.33 L246.79,269.83 L246.95,269.33 L247.11,268.83 L247.26,268.33 L247.42,267.83 L247.57,267.33 L247.73,266.83 L247.88,266.33 L248.04,265.83 L248.19,265.33 L248.34,264.83 L248.50,264.33 L248.65,263.83 L248.80,263.33 L248.95,262.83 L249.11,262.33 L249.26,261.83 L249.41,261.33 L249.56,260.83 L249.71,260.33 L249.86,259.83 L250.01,259.33 L250.16,258.83 L250.31,258.33 L250.46,257.83 L250.61,257.33 L250.76,256.83 L250.90,256.33 L251.05,255.83 L251.20,255.33 L251.35,254.83 L251.49,254.33 L251.64,253.83 L251.79,253.33 L251.93,252.83 L252.08,252.33 L252.23,251.83 L252.37,251.33 L252.52,250.83 L252.66,250.33 L252.81,249.83 L252.95,249.33 L253.09,248.83 L253.24,248.33 L253.38,247.83 L253.53,247.33 L253.67,246.83 L253.81,246.33 L253.95,245.83 L254.10,245.33 L254.24,244.83 L254.38,244.33 L254.52,243.83 L254.66,243.33 L254.81,242.83 L254.95,242.33 L255.09,241.83 L255.23,241.33 L255.37,240.83 L255.51,240.33 L255.65,239.83 L255.79,239.33 L255.93,238.83 L256.07,238.33 L256.21,237.83 L256.35,237.33 L256.49,236.83 L256.63,236.33 L256.76,235.83 L256.90,235.33 L257.04,234.83 L257.18,234.33 L257.32,233.83 L257.45,233.33 L257.59,232.83 L257.73,232.33 L257.87,231.83 L258.00,231.33 L258.14,230.83 L258.28,230.33 L258.41,229.83 L258.55,229.33 L258.68,228.83 L258.82,228.33 L258.96,227.83 L259.09,227.33 L259.23,226.83 L259.36,226.33 L259.50,225.83 L259.63,225.33 L259.77,224.83 L259.90,224.33 L260.04,223.83 L260.17,223.33 L260.31,222.83 L260.44,222.33 L260.57,221.83 L260.71,221.33 L260.84,220.83 L260.97,220.33 L261.11,219.83 L261.24,219.33 L261.37,218.83 L261.51,218.33 L261.64,217.83 L261.77,217.33 L261.91,216.83 L262.04,216.33 L262.17,215.83 L262.30,215.33 L262.44,214.83 L262.57,214.33 L262.70,213.83 L262.83,213.33 L262.96,212.83 L263.09,212.33 L263.23,211.83 L263.36,211.33 L263.49,210.83 L263.62,210.33 L263.75,209.83 L263.88,209.33 L264.01,208.83 L264.14,208.33 L264.27,207.83 L264.41,207.33 L264.54,206.83 L264.67,206.33 L264.80,205.83 L264.93,205.33 L265.06,204.83 L265.19,204.33 L265.32,203.83 L265.45,203.33 L265.58,202.83 L265.71,202.33 L265.84,201.83 L265.97,201.33 L266.09,200.83 L266.22,200.33 L266.35,199.83 L266.48,199.33 L266.61,198.83 L266.74,198.33 L266.87,197.83 L267.00,197.33 L267.13,196.83 L267.26,196.33 L267.39,195.83 L267.51,195.33 L267.64,194.83 L267.77,194.33 L267.90,193.83 L268.03,193.33 L268.16,192.83 L268.28,192.33 L268.41,191.83 L268.54,191.33 L268.67,190.83 L268.80,190.33 L268.93,189.83 L269.05,189.33 L269.18,188.83 L269.31,188.33 L269.44,187.83 L269.56,187.33 L269.69,186.83 L269.82,186.33 L269.95,185.83 L270.08,185.33 L270.20,184.83 L270.33,184.33 L270.46,183.83 L270.59,183.33 L270.71,182.83 L270.84,182.33 L270.97,181.83 L271.10,181.33 L271.22,180.83 L271.35,180.33 L271.48,179.83 L271.60,179.33 L271.73,178.83 L271.86,178.33 L271.99,177.83 L272.11,177.33 L272.24,176.83 L272.37,176.33 L272.49,175.83 L272.62,175.33 L272.75,174.83 L272.88,174.33 L273.00,173.83 L273.13,173.33 L273.26,172.83 L273.38,172.33 L273.51,171.83 L273.64,171.33 L273.77,170.83 L273.89,170.33 L274.02,169.83 L274.15,169.33 L274.28,168.83 L274.40,168.33 L274.53,167.83 L274.66,167.33 L274.79,166.83 L274.91,166.33 L275.04,165.83 L275.17,165.33 L275.30,164.83 L275.42,164.33 L275.55,163.83 L275.68,163.33 L275.81,162.83 L275.94,162.33 L276.06,161.83 L276.19,161.33 L276.32,160.83 L276.45,160.33 L276.58,159.83 L276.71,159.33 L276.84,158.83 L276.97,158.33 L277.10,157.83 L277.22,157.33 L277.35,156.83 L277.48,156.33 L277.61,155.83 L277.74,155.33 L277.87,154.83 L278.00,154.33 L278.13,153.83 L278.26,153.33 L278.39,152.83 L278.53,152.33 L278.66,151.83 L278.79,151.33 L278.92,150.83 L279.05,150.33 L279.18,149.83 L279.31,149.33 L279.45,148.83 L279.58,148.33 L279.71,147.83 L279.84,147.33 L279.98,146.83 L280.11,146.33 L280.24,145.83 L280.37,145.33 L280.51,144.83 L280.64,144.33 L280.78,143.83 L280.91,143.33 L281.05,142.83 L281.18,142.33 L281.32,141.83 L281.45,141.33 L281.59,140.83 L281.72,140.33 L281.86,139.83 L281.99,139.33 L282.13,138.83 L282.27,138.33 L282.41,137.83 L282.54,137.33 L282.68,136.83 L282.82,136.33 L282.96,135.83 L283.10,135.33 L283.23,134.83 L283.37,134.33 L283.51,133.83 L283.65,133.33 L283.79,132.83 L283.94,132.33 L284.08,131.83 L284.22,131.33 L284.36,130.83 L284.50,130.33 L284.64,129.83 L284.79,129.33 L284.93,128.83 L285.07,128.33 L285.22,127.83 L285.36,127.33 L285.51,126.83 L285.65,126.33 L285.80,125.83 L285.95,125.33 L286.09,124.83 L286.24,124.33 L286.39,123.83 L286.53,123.33 L286.68,122.83 L286.83,122.33 L286.98,121.83 L287.13,121.33 L287.28,120.83 L287.43,120.33 L287.58,119.83 L287.74,119.33 L287.89,118.83 L288.04,118.33 L288.19,117.83 L288.35,117.33 L288.50,116.83 L288.66,116.33 L288.81,115.83 L288.97,115.33 L289.13,114.83 L289.29,114.33 L289.44,113.83 L289.60,113.33 L289.76,112.83 L289.92,112.33 L290.08,111.83 L290.24,111.33 L290.41,110.83 L290.57,110.33 L290.73,109.83 L290.89,109.33 L291.06,108.83 L291.22,108.33 L291.39,107.83 L291.56,107.33 L291.73,106.83 L291.89,106.33 L292.06,105.83 L292.23,105.33 L292.40,104.83 L292.57,104.33 L292.75,103.83 L292.92,103.33 L293.09,102.83 L293.27,102.33 L293.44,101.83 L293.62,101.33 L293.80,100.83 L293.98,100.33 L294.16,99.83 L294.34,99.33 L294.52,98.83 L294.70,98.33 L294.88,97.83 L295.06,97.33 L295.25,96.83 L295.43,96.33 L295.62,95.83 L295.81,95.33 L296.00,94.83 L296.19,94.33 L296.38,93.83 L296.57,93.33 L296.76,92.83 L296.96,92.33 L297.15,91.83 L297.35,91.33 L297.54,90.83 L297.74,90.33 L297.94,89.83 L298.14,89.33 L298.35,88.83 L298.55,88.33 L298.75,87.83 L298.96,87.33 L299.17,86.83 L299.38,86.33 L299.59,85.83 L299.80,85.33 L300.01,84.83 L300.22,84.33 L300.44,83.83 L300.66,83.33 L300.87,82.83 L301.09,82.33 L301.31,81.83 L301.54,81.33 L301.76,80.83 L301.99,80.33 L302.22,79.83 L302.45,79.33 L302.68,78.83 L302.91,78.33 L303.14,77.83 L303.38,77.33 L303.62,76.83 L303.86,76.33 L304.10,75.83 L304.34,75.33 L304.59,74.83 L304.84,74.33 L305.09,73.83 L305.34,73.33 L305.59,72.83 L305.85,72.33 L306.10,71.83 L306.36,71.33 L306.63,70.83 L306.89,70.33 L307.16,69.83 L307.43,69.33 L307.70,68.83 L307.97,68.33 L308.25,67.83 L308.53,67.33 L308.81,66.83 L309.10,66.33 L309.38,65.83 L309.67,65.33 L309.97,64.83 L310.26,64.33 L310.56,63.83 L310.86,63.33 L311.17,62.83 L311.48,62.33 L311.79,61.83 L312.10,61.33 L312.42,60.83 L312.75,60.33 L313.07,59.83 L313.40,59.33 L313.73,58.83 L314.07,58.33 L314.41,57.83 L314.76,57.33 L315.11,56.83 L315.46,56.33 L315.82,55.83 L316.18,55.33 L316.55,54.83 L316.92,54.33 L317.30,53.83 L317.68,53.33 L318.06,52.83 L318.46,52.33 L318.85,51.83 L319.26,51.33 L319.67,50.83 L320.08,50.33 L320.50,49.83 L320.93,49.33 L321.36,48.83 L321.80,48.33 L322.25,47.83 L322.71,47.33 L323.17,46.83 L323.64,46.33 L324.11,45.83 L324.60,45.33 L325.09,44.83 L325.59,44.33 L326.11,43.83 L326.63,43.33 L327.16,42.83 L327.69,42.33 L328.24,41.83 L328.81,41.33 L329.38,40.83 L329.96,40.33 L330.56,39.83 L331.17,39.33 L331.79,38.83 L332.42,38.33 L333.07,37.83 L333.74,37.33 L334.42,36.83 L335.11,36.33 L335.83,35.83 L336.55,35.33 L337.27,34.85 L337.99,34.39 L338.71,33.93 L339.43,33.48 L340.16,33.05 L340.88,32.63 L341.60,32.21 L342.32,31.81 L343.04,31.42 L343.76,31.04 L344.48,30.67 L345.20,30.30 L345.92,29.95 L346.65,29.60 L347.37,29.27 L348.09,28.94 L348.81,28.62 L349.53,28.31 L350.25,28.00 L350.97,27.71 L351.69,27.42 L352.41,27.14 L353.13,26.86 L353.85,26.60 L354.57,26.34 L355.29,26.08 L356.01,25.83 L356.73,25.59 L357.45,25.36 L358.17,25.13 L358.89,24.91 L359.61,24.69 L360.33,24.48 L361.04,24.27 L361.76,24.07 L362.48,23.88 L363.20,23.68 L363.92,23.50 L364.64,23.32 L365.36,23.14 L366.07,22.97 L366.79,22.80 L367.51,22.64 L368.23,22.48 L368.95,22.33 L369.66,22.18 L370.38,22.03 L371.10,21.89 L371.81,21.75 L372.53,21.61 L373.25,21.48 L373.96,21.35 L374.68,21.23 L375.40,21.11 L376.11,20.99 L376.83,20.87 L377.54,20.76 L378.26,20.65 L378.97,20.55 L379.69,20.44 L380.40,20.34 L381.12,20.24 L381.83,20.15 L382.19,20.10 L560.40,14.95" fill="none" stroke-linejoin="round" stroke="#ec1c24" stroke-width="2" stroke-dasharray="2 5.7"/>
<polygon points="183.60,285.76 176.30,298.40 190.90,298.40" fill="#6f9d5c"/>
<circle cx="224.90" cy="251.51" r="5.5" fill="#d03b33"/>
<circle cx="224.90" cy="208.84" r="5.5" fill="#426a86"/>
<polygon points="232.30,160.76 237.70,166.16 232.30,171.56 226.90,166.16" fill="#ebe483"/>
<rect x="236.50" y="117.99" width="11.00" height="11.00" fill="#4f5bb1"/>
<polygon points="283.50,72.38 276.20,85.03 290.80,85.03" fill="#6f9d5c"/>
<rect x="304.10" y="32.64" width="11.00" height="11.00" fill="#4f5bb1"/>
<text x="169.40" y="371.7" font-family="Liberation Sans, Arial, Helvetica, sans-serif" font-weight="bold" font-size="21.0" fill="#e8222c" textLength="148.20" lengthAdjust="spacingAndGlyphs">HC<tspan dy="3.4" font-size="13.2" dx="0.6">5</tspan><tspan dy="-3.4" dx="2.6"> = 0.62 µg/L</tspan></text>
<text x="360.80" y="216.50" font-family="Liberation Sans, Arial, Helvetica, sans-serif" font-weight="bold" font-size="19.30" fill="#000" textLength="42.4" lengthAdjust="spacingAndGlyphs">level</text>
<rect x="365.30" y="233.30" width="11.00" height="11.00" fill="#4f5bb1"/>
<text x="391.20" y="245.60" font-family="Liberation Sans, Arial, Helvetica, sans-serif" font-weight="bold" font-size="19.00" fill="#000" textLength="53.80" lengthAdjust="spacingAndGlyphs">Algae</text>
<circle cx="370.80" cy="260.00" r="5.5" fill="#d03b33"/>
<text x="391.20" y="266.80" font-family="Liberation Sans, Arial, Helvetica, sans-serif" font-weight="bold" font-size="19.00" fill="#000" textLength="84.70" lengthAdjust="spacingAndGlyphs">Annulata</text>
<polygon points="370.80,272.77 363.50,285.41 378.10,285.41" fill="#6f9d5c"/>
<text x="391.20" y="288.00" font-family="Liberation Sans, Arial, Helvetica, sans-serif" font-weight="bold" font-size="19.00" fill="#000" textLength="95.80" lengthAdjust="spacingAndGlyphs">Arthropod</text>
<polygon points="370.80,297.00 376.20,302.40 370.80,307.80 365.40,302.40" fill="#ebe483"/>
<text x="391.20" y="309.20" font-family="Liberation Sans, Arial, Helvetica, sans-serif" font-weight="bold" font-size="19.00" fill="#000" textLength="78.20" lengthAdjust="spacingAndGlyphs">Bacteria</text>
<circle cx="370.80" cy="323.60" r="5.5" fill="#426a86"/>
<text x="391.20" y="330.40" font-family="Liberation Sans, Arial, Helvetica, sans-serif" font-weight="bold" font-size="19.00" fill="#000" textLength="74.20" lengthAdjust="spacingAndGlyphs">Mollusk</text>
</g>
<rect x="55.10" y="0" width="439.90" height="1" fill="#dcdcdc"/>
<line x1="56.08" y1="0" x2="56.08" y2="381.90" stroke="#6a6a6a" stroke-width="1.95"/>
<line x1="494.03" y1="0" x2="494.03" y2="381.90" stroke="#9c9c9c" stroke-width="1.95"/>
<line x1="55.10" y1="381.55" x2="495.00" y2="381.55" stroke="#3a3a3a" stroke-width="1.1"/>
</g>
<g>
<line x1="596.18" y1="381.80" x2="596.18" y2="384.10" stroke="#9a9a9a" stroke-width="1"/>
<text x="587.20" y="399.2" font-family="Liberation Sans, Arial, Helvetica, sans-serif" font-weight="bold" font-size="19.80" fill="#000" textLength="17.96" lengthAdjust="spacingAndGlyphs">-2</text>
<line x1="695.90" y1="381.80" x2="695.90" y2="384.10" stroke="#9a9a9a" stroke-width="1"/>
<text x="690.28" y="399.2" font-family="Liberation Sans, Arial, Helvetica, sans-serif" font-weight="bold" font-size="19.80" fill="#000" textLength="11.23" lengthAdjust="spacingAndGlyphs">0</text>
<line x1="795.62" y1="381.80" x2="795.62" y2="384.10" stroke="#9a9a9a" stroke-width="1"/>
<text x="790.00" y="399.2" font-family="Liberation Sans, Arial, Helvetica, sans-serif" font-weight="bold" font-size="19.80" fill="#000" textLength="11.23" lengthAdjust="spacingAndGlyphs">2</text>
<line x1="895.34" y1="381.80" x2="895.34" y2="384.10" stroke="#9a9a9a" stroke-width="1"/>
<text x="889.72" y="399.2" font-family="Liberation Sans, Arial, Helvetica, sans-serif" font-weight="bold" font-size="19.80" fill="#000" textLength="11.23" lengthAdjust="spacingAndGlyphs">4</text>
<line x1="995.06" y1="381.80" x2="995.06" y2="384.10" stroke="#9a9a9a" stroke-width="1"/>
<text x="989.44" y="399.2" font-family="Liberation Sans, Arial, Helvetica, sans-serif" font-weight="bold" font-size="19.80" fill="#000" textLength="11.23" lengthAdjust="spacingAndGlyphs">6</text>
<line x1="574.50" y1="358.20" x2="576.00" y2="358.20" stroke="#777" stroke-width="1"/>
<text x="562.41" y="365.80" font-family="Liberation Sans, Arial, Helvetica, sans-serif" font-weight="bold" font-size="21.30" fill="#000" textLength="10.79" lengthAdjust="spacingAndGlyphs">0</text>
<line x1="574.50" y1="272.85" x2="576.00" y2="272.85" stroke="#777" stroke-width="1"/>
<text x="551.63" y="280.45" font-family="Liberation Sans, Arial, Helvetica, sans-serif" font-weight="bold" font-size="21.30" fill="#000" textLength="21.57" lengthAdjust="spacingAndGlyphs">25</text>
<line x1="574.50" y1="187.50" x2="576.00" y2="187.50" stroke="#777" stroke-width="1"/>
<text x="551.63" y="195.10" font-family="Liberation Sans, Arial, Helvetica, sans-serif" font-weight="bold" font-size="21.30" fill="#000" textLength="21.57" lengthAdjust="spacingAndGlyphs">50</text>
<line x1="574.50" y1="102.15" x2="576.00" y2="102.15" stroke="#777" stroke-width="1"/>
<text x="551.63" y="109.75" font-family="Liberation Sans, Arial, Helvetica, sans-serif" font-weight="bold" font-size="21.30" fill="#000" textLength="21.57" lengthAdjust="spacingAndGlyphs">75</text>
<line x1="574.50" y1="16.80" x2="576.00" y2="16.80" stroke="#777" stroke-width="1"/>
<text x="540.84" y="24.40" font-family="Liberation Sans, Arial, Helvetica, sans-serif" font-weight="bold" font-size="21.30" fill="#000" textLength="32.36" lengthAdjust="spacingAndGlyphs">100</text>
<text x="710.00" y="418.7" font-family="Liberation Sans, Arial, Helvetica, sans-serif" font-weight="bold" font-size="19.30" fill="#000" textLength="29.3" lengthAdjust="spacingAndGlyphs">log</text>
<text x="738.50" y="425.4" font-family="Liberation Sans, Arial, Helvetica, sans-serif" font-weight="bold" font-size="12.8" fill="#000" textLength="12.4" lengthAdjust="spacingAndGlyphs">10</text>
<text x="755.90" y="418.7" font-family="Liberation Sans, Arial, Helvetica, sans-serif" font-weight="bold" font-size="19.30" fill="#000" textLength="125.2" lengthAdjust="spacingAndGlyphs">(NOEC(µg/L))</text>
<text transform="translate(535.50,190.4) rotate(-90)" text-anchor="middle" font-family="Liberation Sans, Arial, Helvetica, sans-serif" font-weight="bold" font-size="20.80" fill="#000" textLength="182" lengthAdjust="spacingAndGlyphs">Fraction affected %</text>
<clipPath id="clipB"><rect x="576.50" y="0.50" width="438.60" height="380.80"/></clipPath>
<g clip-path="url(#clipB)">
<text x="596.50" y="40.6" font-family="Liberation Sans, Arial, Helvetica, sans-serif" font-size="29.6" fill="#000" textLength="15.50" lengthAdjust="spacingAndGlyphs">B</text>
<circle cx="718.20" cy="342.68" r="5.5" fill="#d03b33"/>
<circle cx="735.60" cy="311.65" r="5.5" fill="#d03b33"/>
<circle cx="740.70" cy="280.61" r="5.5" fill="#d03b33"/>
<circle cx="748.70" cy="249.57" r="5.5" fill="#d03b33"/>
<polygon points="769.40,210.11 762.10,222.75 776.70,222.75" fill="#6f9d5c"/>
<rect x="779.10" y="182.00" width="11.00" height="11.00" fill="#4f5bb1"/>
<rect x="789.90" y="150.97" width="11.00" height="11.00" fill="#4f5bb1"/>
<rect x="794.60" y="119.93" width="11.00" height="11.00" fill="#4f5bb1"/>
<rect x="817.10" y="88.90" width="11.00" height="11.00" fill="#4f5bb1"/>
<circle cx="830.10" cy="63.37" r="5.5" fill="#d03b33"/>
<rect x="825.10" y="26.83" width="11.00" height="11.00" fill="#4f5bb1"/>
<text x="727.20" y="47.60" font-family="Liberation Sans, Arial, Helvetica, sans-serif" font-weight="bold" font-style="italic" font-size="19.70" fill="#000" textLength="187.00" lengthAdjust="spacingAndGlyphs">Tetraselmis suecica</text>
<text x="753.00" y="78.70" font-family="Liberation Sans, Arial, Helvetica, sans-serif" font-weight="bold" font-style="italic" font-size="19.70" fill="#000" textLength="134.70" lengthAdjust="spacingAndGlyphs">Artemia salina</text>
<text x="773.50" y="95.20" font-family="Liberation Sans, Arial, Helvetica, sans-serif" font-weight="bold" font-style="italic" font-size="19.70" fill="#000" textLength="240.00" lengthAdjust="spacingAndGlyphs">Thalassiosia pseudonana</text>
<text x="682.10" y="141.10" font-family="Liberation Sans, Arial, Helvetica, sans-serif" font-weight="bold" font-style="italic" font-size="19.70" fill="#000" textLength="215.00" lengthAdjust="spacingAndGlyphs">Skeletonema costatum</text>
<text x="578.30" y="167.40" font-family="Liberation Sans, Arial, Helvetica, sans-serif" font-weight="bold" font-style="italic" font-size="19.70" fill="#000" textLength="261.70" lengthAdjust="spacingAndGlyphs">Phaeodactylum tricornutum</text>
<text x="698.30" y="185.00" font-family="Liberation Sans, Arial, Helvetica, sans-serif" font-weight="bold" font-style="italic" font-size="19.70" fill="#000" textLength="192.80" lengthAdjust="spacingAndGlyphs">Dunaliella tertiolecta</text>
<text x="714.70" y="215.40" font-family="Liberation Sans, Arial, Helvetica, sans-serif" font-weight="bold" font-style="italic" font-size="19.70" fill="#000" textLength="131.30" lengthAdjust="spacingAndGlyphs">Vibrio fischeri</text>
<text x="644.80" y="265.30" font-family="Liberation Sans, Arial, Helvetica, sans-serif" font-weight="bold" font-style="italic" font-size="19.70" fill="#000" textLength="187.10" lengthAdjust="spacingAndGlyphs">Tigriopus japonicus</text>
<text x="648.80" y="295.90" font-family="Liberation Sans, Arial, Helvetica, sans-serif" font-weight="bold" font-style="italic" font-size="19.70" fill="#000" textLength="163.10" lengthAdjust="spacingAndGlyphs">Elasmopus rapax</text>
<text x="633.00" y="327.60" font-family="Liberation Sans, Arial, Helvetica, sans-serif" font-weight="bold" font-style="italic" font-size="19.70" fill="#000" textLength="184.10" lengthAdjust="spacingAndGlyphs">Cymodoce truncata</text>
<text x="690.70" y="344.10" font-family="Liberation Sans, Arial, Helvetica, sans-serif" font-weight="bold" font-style="italic" font-size="19.70" fill="#000" textLength="216.50" lengthAdjust="spacingAndGlyphs">Gammarus aequicauda</text>
<path d="M576.50,341.13 H716.90 V381.30" fill="none" stroke="#000" stroke-width="1.15" stroke-dasharray="5.2 4.4"/>
<path d="M691.29,354.80 L692.00,354.58 L692.71,354.35 L693.42,354.13 L694.13,353.89 L694.84,353.65 L695.55,353.40 L696.26,353.15 L696.97,352.89 L697.67,352.63 L698.38,352.36 L699.09,352.08 L699.80,351.79 L700.51,351.50 L701.22,351.20 L701.92,350.89 L702.63,350.57 L703.34,350.24 L704.05,349.90 L704.75,349.56 L705.46,349.20 L706.17,348.84 L706.87,348.46 L707.58,348.07 L708.29,347.68 L708.99,347.27 L709.70,346.84 L710.41,346.41 L711.11,345.96 L711.82,345.50 L712.52,345.02 L713.23,344.53 L713.93,344.03 L714.60,343.53 L715.26,343.03 L715.90,342.53 L716.52,342.03 L717.12,341.53 L717.71,341.03 L718.27,340.53 L718.83,340.03 L719.37,339.53 L719.90,339.03 L720.41,338.53 L720.91,338.03 L721.41,337.53 L721.89,337.03 L722.36,336.53 L722.82,336.03 L723.27,335.53 L723.71,335.03 L724.14,334.53 L724.57,334.03 L724.99,333.53 L725.40,333.03 L725.80,332.53 L726.20,332.03 L726.59,331.53 L726.97,331.03 L727.35,330.53 L727.72,330.03 L728.08,329.53 L728.44,329.03 L728.80,328.53 L729.15,328.03 L729.49,327.53 L729.84,327.03 L730.17,326.53 L730.50,326.03 L730.83,325.53 L731.15,325.03 L731.47,324.53 L731.79,324.03 L732.10,323.53 L732.41,323.03 L732.71,322.53 L733.01,322.03 L733.31,321.53 L733.60,321.03 L733.89,320.53 L734.18,320.03 L734.47,319.53 L734.75,319.03 L735.03,318.53 L735.30,318.03 L735.58,317.53 L735.85,317.03 L736.12,316.53 L736.39,316.03 L736.65,315.53 L736.91,315.03 L737.17,314.53 L737.43,314.03 L737.68,313.53 L737.94,313.03 L738.19,312.53 L738.43,312.03 L738.68,311.53 L738.93,311.03 L739.17,310.53 L739.41,310.03 L739.65,309.53 L739.89,309.03 L740.12,308.53 L740.36,308.03 L740.59,307.53 L740.82,307.03 L741.05,306.53 L741.28,306.03 L741.51,305.53 L741.73,305.03 L741.95,304.53 L742.18,304.03 L742.40,303.53 L742.62,303.03 L742.83,302.53 L743.05,302.03 L743.27,301.53 L743.48,301.03 L743.69,300.53 L743.91,300.03 L744.12,299.53 L744.33,299.03 L744.53,298.53 L744.74,298.03 L744.95,297.53 L745.15,297.03 L745.36,296.53 L745.56,296.03 L745.76,295.53 L745.96,295.03 L746.16,294.53 L746.36,294.03 L746.56,293.53 L746.75,293.03 L746.95,292.53 L747.14,292.03 L747.34,291.53 L747.53,291.03 L747.72,290.53 L747.92,290.03 L748.11,289.53 L748.30,289.03 L748.48,288.53 L748.67,288.03 L748.86,287.53 L749.05,287.03 L749.23,286.53 L749.42,286.03 L749.60,285.53 L749.78,285.03 L749.97,284.53 L750.15,284.03 L750.33,283.53 L750.51,283.03 L750.69,282.53 L750.87,282.03 L751.05,281.53 L751.23,281.03 L751.40,280.53 L751.58,280.03 L751.76,279.53 L751.93,279.03 L752.11,278.53 L752.28,278.03 L752.45,277.53 L752.63,277.03 L752.80,276.53 L752.97,276.03 L753.14,275.53 L753.31,275.03 L753.48,274.53 L753.65,274.03 L753.82,273.53 L753.99,273.03 L754.16,272.53 L754.32,272.03 L754.49,271.53 L754.66,271.03 L754.82,270.53 L754.99,270.03 L755.15,269.53 L755.32,269.03 L755.48,268.53 L755.65,268.03 L755.81,267.53 L755.97,267.03 L756.14,266.53 L756.30,266.03 L756.46,265.53 L756.62,265.03 L756.78,264.53 L756.94,264.03 L757.10,263.53 L757.26,263.03 L757.42,262.53 L757.58,262.03 L757.74,261.53 L757.89,261.03 L758.05,260.53 L758.21,260.03 L758.36,259.53 L758.52,259.03 L758.68,258.53 L758.83,258.03 L758.99,257.53 L759.14,257.03 L759.30,256.53 L759.45,256.03 L759.61,255.53 L759.76,255.03 L759.91,254.53 L760.07,254.03 L760.22,253.53 L760.37,253.03 L760.52,252.53 L760.68,252.03 L760.83,251.53 L760.98,251.03 L761.13,250.53 L761.28,250.03 L761.43,249.53 L761.58,249.03 L761.73,248.53 L761.88,248.03 L762.03,247.53 L762.18,247.03 L762.33,246.53 L762.48,246.03 L762.63,245.53 L762.77,245.03 L762.92,244.53 L763.07,244.03 L763.22,243.53 L763.36,243.03 L763.51,242.53 L763.66,242.03 L763.80,241.53 L763.95,241.03 L764.10,240.53 L764.24,240.03 L764.39,239.53 L764.53,239.03 L764.68,238.53 L764.83,238.03 L764.97,237.53 L765.12,237.03 L765.26,236.53 L765.40,236.03 L765.55,235.53 L765.69,235.03 L765.84,234.53 L765.98,234.03 L766.12,233.53 L766.27,233.03 L766.41,232.53 L766.55,232.03 L766.70,231.53 L766.84,231.03 L766.98,230.53 L767.12,230.03 L767.27,229.53 L767.41,229.03 L767.55,228.53 L767.69,228.03 L767.84,227.53 L767.98,227.03 L768.12,226.53 L768.26,226.03 L768.40,225.53 L768.54,225.03 L768.68,224.53 L768.82,224.03 L768.97,223.53 L769.11,223.03 L769.25,222.53 L769.39,222.03 L769.53,221.53 L769.67,221.03 L769.81,220.53 L769.95,220.03 L770.09,219.53 L770.23,219.03 L770.37,218.53 L770.51,218.03 L770.65,217.53 L770.79,217.03 L770.93,216.53 L771.07,216.03 L771.21,215.53 L771.35,215.03 L771.48,214.53 L771.62,214.03 L771.76,213.53 L771.90,213.03 L772.04,212.53 L772.18,212.03 L772.32,211.53 L772.46,211.03 L772.60,210.53 L772.73,210.03 L772.87,209.53 L773.01,209.03 L773.15,208.53 L773.29,208.03 L773.43,207.53 L773.57,207.03 L773.70,206.53 L773.84,206.03 L773.98,205.53 L774.12,205.03 L774.26,204.53 L774.40,204.03 L774.53,203.53 L774.67,203.03 L774.81,202.53 L774.95,202.03 L775.09,201.53 L775.23,201.03 L775.36,200.53 L775.50,200.03 L775.64,199.53 L775.78,199.03 L775.92,198.53 L776.05,198.03 L776.19,197.53 L776.33,197.03 L776.47,196.53 L776.61,196.03 L776.75,195.53 L776.88,195.03 L777.02,194.53 L777.16,194.03 L777.30,193.53 L777.44,193.03 L777.58,192.53 L777.71,192.03 L777.85,191.53 L777.99,191.03 L778.13,190.53 L778.27,190.03 L778.41,189.53 L778.54,189.03 L778.68,188.53 L778.82,188.03 L778.96,187.53 L779.10,187.03 L779.24,186.53 L779.38,186.03 L779.52,185.53 L779.65,185.03 L779.79,184.53 L779.93,184.03 L780.07,183.53 L780.21,183.03 L780.35,182.53 L780.49,182.03 L780.63,181.53 L780.77,181.03 L780.91,180.53 L781.05,180.03 L781.19,179.53 L781.33,179.03 L781.47,178.53 L781.61,178.03 L781.75,177.53 L781.89,177.03 L782.03,176.53 L782.17,176.03 L782.31,175.53 L782.45,175.03 L782.59,174.53 L782.73,174.03 L782.87,173.53 L783.01,173.03 L783.15,172.53 L783.29,172.03 L783.43,171.53 L783.57,171.03 L783.71,170.53 L783.85,170.03 L783.99,169.53 L784.14,169.03 L784.28,168.53 L784.42,168.03 L784.56,167.53 L784.70,167.03 L784.84,166.53 L784.98,166.03 L785.13,165.53 L785.27,165.03 L785.41,164.53 L785.55,164.03 L785.70,163.53 L785.84,163.03 L785.98,162.53 L786.12,162.03 L786.27,161.53 L786.41,161.03 L786.55,160.53 L786.70,160.03 L786.84,159.53 L786.98,159.03 L787.13,158.53 L787.27,158.03 L787.41,157.53 L787.56,157.03 L787.70,156.53 L787.85,156.03 L787.99,155.53 L788.14,155.03 L788.28,154.53 L788.43,154.03 L788.57,153.53 L788.72,153.03 L788.86,152.53 L789.01,152.03 L789.15,151.53 L789.30,151.03 L789.45,150.53 L789.59,150.03 L789.74,149.53 L789.88,149.03 L790.03,148.53 L790.18,148.03 L790.33,147.53 L790.47,147.03 L790.62,146.53 L790.77,146.03 L790.91,145.53 L791.06,145.03 L791.21,144.53 L791.36,144.03 L791.51,143.53 L791.66,143.03 L791.81,142.53 L791.95,142.03 L792.10,141.53 L792.25,141.03 L792.40,140.53 L792.55,140.03 L792.70,139.53 L792.85,139.03 L793.00,138.53 L793.15,138.03 L793.31,137.53 L793.46,137.03 L793.61,136.53 L793.76,136.03 L793.91,135.53 L794.06,135.03 L794.22,134.53 L794.37,134.03 L794.52,133.53 L794.67,133.03 L794.83,132.53 L794.98,132.03 L795.13,131.53 L795.29,131.03 L795.44,130.53 L795.60,130.03 L795.75,129.53 L795.91,129.03 L796.06,128.53 L796.22,128.03 L796.37,127.53 L796.53,127.03 L796.69,126.53 L796.84,126.03 L797.00,125.53 L797.16,125.03 L797.31,124.53 L797.47,124.03 L797.63,123.53 L797.79,123.03 L797.95,122.53 L798.10,122.03 L798.26,121.53 L798.42,121.03 L798.58,120.53 L798.74,120.03 L798.90,119.53 L799.06,119.03 L799.23,118.53 L799.39,118.03 L799.55,117.53 L799.71,117.03 L799.87,116.53 L800.04,116.03 L800.20,115.53 L800.36,115.03 L800.53,114.53 L800.69,114.03 L800.86,113.53 L801.02,113.03 L801.19,112.53 L801.35,112.03 L801.52,111.53 L801.68,111.03 L801.85,110.53 L802.02,110.03 L802.19,109.53 L802.35,109.03 L802.52,108.53 L802.69,108.03 L802.86,107.53 L803.03,107.03 L803.20,106.53 L803.37,106.03 L803.54,105.53 L803.71,105.03 L803.88,104.53 L804.06,104.03 L804.23,103.53 L804.40,103.03 L804.58,102.53 L804.75,102.03 L804.92,101.53 L805.10,101.03 L805.28,100.53 L805.45,100.03 L805.63,99.53 L805.81,99.03 L805.98,98.53 L806.16,98.03 L806.34,97.53 L806.52,97.03 L806.70,96.53 L806.88,96.03 L807.06,95.53 L807.24,95.03 L807.42,94.53 L807.60,94.03 L807.79,93.53 L807.97,93.03 L808.16,92.53 L808.34,92.03 L808.53,91.53 L808.71,91.03 L808.90,90.53 L809.08,90.03 L809.27,89.53 L809.46,89.03 L809.65,88.53 L809.84,88.03 L810.03,87.53 L810.22,87.03 L810.41,86.53 L810.61,86.03 L810.80,85.53 L810.99,85.03 L811.19,84.53 L811.38,84.03 L811.58,83.53 L811.78,83.03 L811.97,82.53 L812.17,82.03 L812.37,81.53 L812.57,81.03 L812.77,80.53 L812.97,80.03 L813.18,79.53 L813.38,79.03 L813.58,78.53 L813.79,78.03 L813.99,77.53 L814.20,77.03 L814.41,76.53 L814.62,76.03 L814.83,75.53 L815.04,75.03 L815.25,74.53 L815.46,74.03 L815.68,73.53 L815.89,73.03 L816.11,72.53 L816.32,72.03 L816.54,71.53 L816.76,71.03 L816.98,70.53 L817.20,70.03 L817.42,69.53 L817.64,69.03 L817.87,68.53 L818.09,68.03 L818.32,67.53 L818.55,67.03 L818.78,66.53 L819.01,66.03 L819.24,65.53 L819.47,65.03 L819.71,64.53 L819.94,64.03 L820.18,63.53 L820.42,63.03 L820.66,62.53 L820.90,62.03 L821.14,61.53 L821.39,61.03 L821.63,60.53 L821.88,60.03 L822.13,59.53 L822.38,59.03 L822.63,58.53 L822.89,58.03 L823.14,57.53 L823.40,57.03 L823.66,56.53 L823.92,56.03 L824.19,55.53 L824.45,55.03 L824.72,54.53 L824.99,54.03 L825.26,53.53 L825.54,53.03 L825.82,52.53 L826.10,52.03 L826.38,51.53 L826.66,51.03 L826.95,50.53 L827.24,50.03 L827.54,49.53 L827.83,49.03 L828.13,48.53 L828.44,48.03 L828.75,47.53 L829.06,47.03 L829.37,46.53 L829.69,46.03 L830.01,45.53 L830.34,45.03 L830.67,44.53 L831.01,44.03 L831.35,43.53 L831.69,43.03 L832.05,42.53 L832.40,42.03 L832.76,41.53 L833.13,41.03 L833.51,40.53 L833.89,40.03 L834.27,39.53 L834.67,39.03 L835.07,38.53 L835.48,38.03 L835.90,37.53 L836.33,37.03 L836.77,36.53 L837.21,36.03 L837.67,35.53 L838.14,35.03 L838.62,34.53 L839.11,34.03 L839.62,33.53 L840.14,33.03 L840.67,32.53 L841.22,32.03 L841.79,31.53 L842.38,31.03 L842.99,30.53 L843.62,30.03 L844.27,29.53 L844.95,29.03 L845.66,28.53 L846.39,28.04 L847.11,27.57 L847.84,27.12 L848.57,26.69 L849.29,26.28 L850.02,25.88 L850.75,25.50 L851.47,25.14 L852.20,24.80 L852.92,24.47 L853.65,24.15 L854.37,23.85 L855.10,23.56 L855.82,23.29 L856.55,23.02 L857.27,22.77 L858.00,22.53 L858.72,22.30 L859.44,22.08 L860.16,21.87 L860.89,21.67 L861.61,21.48 L862.33,21.29 L863.05,21.12 L863.77,20.95 L864.49,20.79 L865.21,20.64 L865.93,20.49 L866.65,20.35 L867.37,20.21 L868.00,20.10 L1081.10,14.95" fill="none" stroke-linejoin="round" stroke="#2f4fa8" stroke-width="2"/>
<path d="M656.49,354.70 L657.20,354.58 L657.91,354.46 L658.63,354.33 L659.34,354.20 L660.05,354.06 L660.76,353.92 L661.47,353.78 L662.18,353.63 L662.89,353.48 L663.60,353.32 L664.31,353.16 L665.02,352.99 L665.73,352.81 L666.44,352.64 L667.15,352.45 L667.86,352.26 L668.57,352.07 L669.28,351.87 L669.99,351.66 L670.70,351.45 L671.41,351.23 L672.11,351.00 L672.82,350.77 L673.53,350.53 L674.24,350.29 L674.95,350.03 L675.66,349.77 L676.36,349.50 L677.07,349.23 L677.78,348.94 L678.49,348.65 L679.19,348.35 L679.90,348.04 L680.61,347.72 L681.32,347.39 L682.02,347.05 L682.73,346.71 L683.44,346.35 L684.14,345.98 L684.85,345.61 L685.56,345.22 L686.27,344.82 L686.97,344.41 L687.68,343.99 L688.39,343.56 L689.09,343.11 L689.80,342.65 L690.51,342.18 L691.21,341.70 L691.92,341.21 L692.61,340.71 L693.29,340.21 L693.95,339.71 L694.59,339.21 L695.22,338.71 L695.83,338.21 L696.43,337.71 L697.02,337.21 L697.59,336.71 L698.16,336.21 L698.71,335.71 L699.25,335.21 L699.78,334.71 L700.29,334.21 L700.80,333.71 L701.30,333.21 L701.80,332.71 L702.28,332.21 L702.75,331.71 L703.22,331.21 L703.68,330.71 L704.13,330.21 L704.57,329.71 L705.01,329.21 L705.44,328.71 L705.86,328.21 L706.28,327.71 L706.69,327.21 L707.10,326.71 L707.50,326.21 L707.89,325.71 L708.28,325.21 L708.66,324.71 L709.04,324.21 L709.42,323.71 L709.79,323.21 L710.15,322.71 L710.51,322.21 L710.86,321.71 L711.21,321.21 L711.56,320.71 L711.90,320.21 L712.24,319.71 L712.58,319.21 L712.91,318.71 L713.23,318.21 L713.56,317.71 L713.88,317.21 L714.19,316.71 L714.51,316.21 L714.82,315.71 L715.12,315.21 L715.43,314.71 L715.73,314.21 L716.02,313.71 L716.32,313.21 L716.61,312.71 L716.90,312.21 L717.18,311.71 L717.47,311.21 L717.75,310.71 L718.03,310.21 L718.30,309.71 L718.57,309.21 L718.85,308.71 L719.11,308.21 L719.38,307.71 L719.64,307.21 L719.90,306.71 L720.16,306.21 L720.42,305.71 L720.67,305.21 L720.93,304.71 L721.18,304.21 L721.42,303.71 L721.67,303.21 L721.92,302.71 L722.16,302.21 L722.40,301.71 L722.64,301.21 L722.87,300.71 L723.11,300.21 L723.34,299.71 L723.57,299.21 L723.80,298.71 L724.03,298.21 L724.26,297.71 L724.48,297.21 L724.71,296.71 L724.93,296.21 L725.15,295.71 L725.37,295.21 L725.58,294.71 L725.80,294.21 L726.01,293.71 L726.23,293.21 L726.44,292.71 L726.65,292.21 L726.86,291.71 L727.07,291.21 L727.27,290.71 L727.48,290.21 L727.68,289.71 L727.88,289.21 L728.08,288.71 L728.28,288.21 L728.48,287.71 L728.68,287.21 L728.88,286.71 L729.07,286.21 L729.27,285.71 L729.46,285.21 L729.65,284.71 L729.84,284.21 L730.03,283.71 L730.22,283.21 L730.41,282.71 L730.60,282.21 L730.78,281.71 L730.97,281.21 L731.15,280.71 L731.34,280.21 L731.52,279.71 L731.70,279.21 L731.88,278.71 L732.06,278.21 L732.24,277.71 L732.42,277.21 L732.59,276.71 L732.77,276.21 L732.94,275.71 L733.12,275.21 L733.29,274.71 L733.47,274.21 L733.64,273.71 L733.81,273.21 L733.98,272.71 L734.15,272.21 L734.32,271.71 L734.49,271.21 L734.65,270.71 L734.82,270.21 L734.99,269.71 L735.15,269.21 L735.32,268.71 L735.48,268.21 L735.64,267.71 L735.81,267.21 L735.97,266.71 L736.13,266.21 L736.29,265.71 L736.45,265.21 L736.61,264.71 L736.77,264.21 L736.93,263.71 L737.09,263.21 L737.24,262.71 L737.40,262.21 L737.56,261.71 L737.71,261.21 L737.87,260.71 L738.02,260.21 L738.18,259.71 L738.33,259.21 L738.48,258.71 L738.63,258.21 L738.79,257.71 L738.94,257.21 L739.09,256.71 L739.24,256.21 L739.39,255.71 L739.54,255.21 L739.69,254.71 L739.84,254.21 L739.98,253.71 L740.13,253.21 L740.28,252.71 L740.43,252.21 L740.57,251.71 L740.72,251.21 L740.86,250.71 L741.01,250.21 L741.15,249.71 L741.30,249.21 L741.44,248.71 L741.58,248.21 L741.73,247.71 L741.87,247.21 L742.01,246.71 L742.15,246.21 L742.30,245.71 L742.44,245.21 L742.58,244.71 L742.72,244.21 L742.86,243.71 L743.00,243.21 L743.14,242.71 L743.28,242.21 L743.42,241.71 L743.56,241.21 L743.69,240.71 L743.83,240.21 L743.97,239.71 L744.11,239.21 L744.24,238.71 L744.38,238.21 L744.52,237.71 L744.65,237.21 L744.79,236.71 L744.92,236.21 L745.06,235.71 L745.19,235.21 L745.33,234.71 L745.46,234.21 L745.60,233.71 L745.73,233.21 L745.87,232.71 L746.00,232.21 L746.13,231.71 L746.27,231.21 L746.40,230.71 L746.53,230.21 L746.66,229.71 L746.80,229.21 L746.93,228.71 L747.06,228.21 L747.19,227.71 L747.32,227.21 L747.45,226.71 L747.58,226.21 L747.71,225.71 L747.84,225.21 L747.98,224.71 L748.11,224.21 L748.24,223.71 L748.36,223.21 L748.49,222.71 L748.62,222.21 L748.75,221.71 L748.88,221.21 L749.01,220.71 L749.14,220.21 L749.27,219.71 L749.40,219.21 L749.52,218.71 L749.65,218.21 L749.78,217.71 L749.91,217.21 L750.04,216.71 L750.16,216.21 L750.29,215.71 L750.42,215.21 L750.55,214.71 L750.67,214.21 L750.80,213.71 L750.93,213.21 L751.05,212.71 L751.18,212.21 L751.31,211.71 L751.43,211.21 L751.56,210.71 L751.69,210.21 L751.81,209.71 L751.94,209.21 L752.06,208.71 L752.19,208.21 L752.31,207.71 L752.44,207.21 L752.57,206.71 L752.69,206.21 L752.82,205.71 L752.94,205.21 L753.07,204.71 L753.19,204.21 L753.32,203.71 L753.44,203.21 L753.57,202.71 L753.69,202.21 L753.82,201.71 L753.94,201.21 L754.07,200.71 L754.19,200.21 L754.32,199.71 L754.44,199.21 L754.57,198.71 L754.69,198.21 L754.81,197.71 L754.94,197.21 L755.06,196.71 L755.19,196.21 L755.31,195.71 L755.44,195.21 L755.56,194.71 L755.69,194.21 L755.81,193.71 L755.93,193.21 L756.06,192.71 L756.18,192.21 L756.31,191.71 L756.43,191.21 L756.56,190.71 L756.68,190.21 L756.80,189.71 L756.93,189.21 L757.05,188.71 L757.18,188.21 L757.30,187.71 L757.43,187.21 L757.55,186.71 L757.68,186.21 L757.80,185.71 L757.92,185.21 L758.05,184.71 L758.17,184.21 L758.30,183.71 L758.42,183.21 L758.55,182.71 L758.67,182.21 L758.80,181.71 L758.92,181.21 L759.05,180.71 L759.17,180.21 L759.30,179.71 L759.42,179.21 L759.55,178.71 L759.67,178.21 L759.79,177.71 L759.92,177.21 L760.04,176.71 L760.17,176.21 L760.29,175.71 L760.42,175.21 L760.54,174.71 L760.67,174.21 L760.79,173.71 L760.92,173.21 L761.04,172.71 L761.17,172.21 L761.30,171.71 L761.42,171.21 L761.55,170.71 L761.67,170.21 L761.80,169.71 L761.92,169.21 L762.05,168.71 L762.17,168.21 L762.30,167.71 L762.42,167.21 L762.55,166.71 L762.68,166.21 L762.80,165.71 L762.93,165.21 L763.05,164.71 L763.18,164.21 L763.30,163.71 L763.43,163.21 L763.56,162.71 L763.68,162.21 L763.81,161.71 L763.93,161.21 L764.06,160.71 L764.19,160.21 L764.31,159.71 L764.44,159.21 L764.57,158.71 L764.69,158.21 L764.82,157.71 L764.95,157.21 L765.07,156.71 L765.20,156.21 L765.33,155.71 L765.45,155.21 L765.58,154.71 L765.71,154.21 L765.83,153.71 L765.96,153.21 L766.09,152.71 L766.22,152.21 L766.34,151.71 L766.47,151.21 L766.60,150.71 L766.73,150.21 L766.85,149.71 L766.98,149.21 L767.11,148.71 L767.24,148.21 L767.36,147.71 L767.49,147.21 L767.62,146.71 L767.75,146.21 L767.88,145.71 L768.00,145.21 L768.13,144.71 L768.26,144.21 L768.39,143.71 L768.52,143.21 L768.65,142.71 L768.78,142.21 L768.90,141.71 L769.03,141.21 L769.16,140.71 L769.29,140.21 L769.42,139.71 L769.55,139.21 L769.68,138.71 L769.81,138.21 L769.94,137.71 L770.07,137.21 L770.20,136.71 L770.33,136.21 L770.46,135.71 L770.59,135.21 L770.72,134.71 L770.85,134.21 L770.98,133.71 L771.11,133.21 L771.24,132.71 L771.37,132.21 L771.50,131.71 L771.63,131.21 L771.76,130.71 L771.89,130.21 L772.03,129.71 L772.16,129.21 L772.29,128.71 L772.42,128.21 L772.55,127.71 L772.68,127.21 L772.82,126.71 L772.95,126.21 L773.08,125.71 L773.21,125.21 L773.34,124.71 L773.48,124.21 L773.61,123.71 L773.74,123.21 L773.87,122.71 L774.01,122.21 L774.14,121.71 L774.27,121.21 L774.41,120.71 L774.54,120.21 L774.67,119.71 L774.81,119.21 L774.94,118.71 L775.08,118.21 L775.21,117.71 L775.34,117.21 L775.48,116.71 L775.61,116.21 L775.75,115.71 L775.88,115.21 L776.02,114.71 L776.15,114.21 L776.29,113.71 L776.42,113.21 L776.56,112.71 L776.70,112.21 L776.83,111.71 L776.97,111.21 L777.10,110.71 L777.24,110.21 L777.38,109.71 L777.51,109.21 L777.65,108.71 L777.79,108.21 L777.92,107.71 L778.06,107.21 L778.20,106.71 L778.34,106.21 L778.47,105.71 L778.61,105.21 L778.75,104.71 L778.89,104.21 L779.03,103.71 L779.17,103.21 L779.30,102.71 L779.44,102.21 L779.58,101.71 L779.72,101.21 L779.86,100.71 L780.00,100.21 L780.14,99.71 L780.28,99.21 L780.42,98.71 L780.56,98.21 L780.70,97.71 L780.84,97.21 L780.98,96.71 L781.12,96.21 L781.27,95.71 L781.41,95.21 L781.55,94.71 L781.69,94.21 L781.83,93.71 L781.98,93.21 L782.12,92.71 L782.26,92.21 L782.40,91.71 L782.55,91.21 L782.69,90.71 L782.83,90.21 L782.98,89.71 L783.12,89.21 L783.27,88.71 L783.41,88.21 L783.55,87.71 L783.70,87.21 L783.84,86.71 L783.99,86.21 L784.13,85.71 L784.28,85.21 L784.43,84.71 L784.57,84.21 L784.72,83.71 L784.87,83.21 L785.01,82.71 L785.16,82.21 L785.31,81.71 L785.46,81.21 L785.60,80.71 L785.75,80.21 L785.90,79.71 L786.05,79.21 L786.20,78.71 L786.35,78.21 L786.50,77.71 L786.65,77.21 L786.80,76.71 L786.95,76.21 L787.10,75.71 L787.25,75.21 L787.40,74.71 L787.56,74.21 L787.71,73.71 L787.86,73.21 L788.01,72.71 L788.17,72.21 L788.32,71.71 L788.48,71.21 L788.63,70.71 L788.79,70.21 L788.94,69.71 L789.10,69.21 L789.26,68.71 L789.41,68.21 L789.57,67.71 L789.73,67.21 L789.89,66.71 L790.05,66.21 L790.21,65.71 L790.37,65.21 L790.53,64.71 L790.69,64.21 L790.85,63.71 L791.01,63.21 L791.18,62.71 L791.34,62.21 L791.51,61.71 L791.67,61.21 L791.84,60.71 L792.00,60.21 L792.17,59.71 L792.34,59.21 L792.51,58.71 L792.68,58.21 L792.85,57.71 L793.02,57.21 L793.19,56.71 L793.36,56.21 L793.54,55.71 L793.71,55.21 L793.89,54.71 L794.06,54.21 L794.24,53.71 L794.42,53.21 L794.60,52.71 L794.78,52.21 L794.96,51.71 L795.15,51.21 L795.33,50.71 L795.51,50.21 L795.70,49.71 L795.89,49.21 L796.08,48.71 L796.27,48.21 L796.46,47.71 L796.66,47.21 L796.85,46.71 L797.05,46.21 L797.25,45.71 L797.45,45.21 L797.66,44.71 L797.86,44.21 L798.07,43.71 L798.28,43.21 L798.49,42.71 L798.71,42.21 L798.92,41.71 L799.14,41.21 L799.36,40.71 L799.59,40.21 L799.82,39.71 L800.05,39.21 L800.29,38.71 L800.52,38.21 L800.77,37.71 L801.01,37.21 L801.26,36.71 L801.52,36.21 L801.78,35.71 L802.04,35.21 L802.31,34.71 L802.58,34.21 L802.87,33.71 L803.15,33.21 L803.45,32.71 L803.75,32.21 L804.06,31.71 L804.37,31.21 L804.70,30.71 L805.04,30.21 L805.38,29.71 L805.74,29.21 L806.11,28.71 L806.49,28.21 L806.89,27.71 L807.31,27.21 L807.74,26.71 L808.19,26.21 L808.67,25.71 L809.17,25.21 L809.70,24.71 L810.26,24.21 L810.87,23.71 L811.51,23.21 L812.21,22.71 L812.95,22.22 L813.69,21.77 L814.43,21.37 L815.17,21.00 L815.90,20.66 L816.64,20.34 L817.01,20.20 L1081.10,14.95" fill="none" stroke-linejoin="round" stroke="#ec1c24" stroke-width="2" stroke-dasharray="2 5.7"/>
<path d="M745.91,354.70 L746.60,354.38 L747.29,354.02 L747.98,353.62 L748.67,353.19 L749.36,352.71 L750.01,352.21 L750.61,351.71 L751.16,351.21 L751.68,350.71 L752.17,350.21 L752.62,349.71 L753.06,349.21 L753.47,348.71 L753.86,348.21 L754.24,347.71 L754.60,347.21 L754.95,346.71 L755.29,346.21 L755.61,345.71 L755.93,345.21 L756.24,344.71 L756.54,344.21 L756.83,343.71 L757.11,343.21 L757.39,342.71 L757.66,342.21 L757.93,341.71 L758.19,341.21 L758.45,340.71 L758.70,340.21 L758.95,339.71 L759.19,339.21 L759.43,338.71 L759.67,338.21 L759.90,337.71 L760.14,337.21 L760.36,336.71 L760.59,336.21 L760.81,335.71 L761.03,335.21 L761.25,334.71 L761.47,334.21 L761.68,333.71 L761.89,333.21 L762.10,332.71 L762.31,332.21 L762.52,331.71 L762.72,331.21 L762.93,330.71 L763.13,330.21 L763.33,329.71 L763.53,329.21 L763.73,328.71 L763.93,328.21 L764.12,327.71 L764.32,327.21 L764.51,326.71 L764.70,326.21 L764.89,325.71 L765.08,325.21 L765.27,324.71 L765.46,324.21 L765.65,323.71 L765.83,323.21 L766.02,322.71 L766.20,322.21 L766.38,321.71 L766.57,321.21 L766.75,320.71 L766.93,320.21 L767.10,319.71 L767.28,319.21 L767.46,318.71 L767.63,318.21 L767.81,317.71 L767.98,317.21 L768.15,316.71 L768.32,316.21 L768.49,315.71 L768.66,315.21 L768.83,314.71 L769.00,314.21 L769.17,313.71 L769.33,313.21 L769.50,312.71 L769.66,312.21 L769.82,311.71 L769.99,311.21 L770.15,310.71 L770.31,310.21 L770.47,309.71 L770.63,309.21 L770.79,308.71 L770.94,308.21 L771.10,307.71 L771.26,307.21 L771.41,306.71 L771.56,306.21 L771.72,305.71 L771.87,305.21 L772.02,304.71 L772.17,304.21 L772.32,303.71 L772.47,303.21 L772.62,302.71 L772.77,302.21 L772.92,301.71 L773.06,301.21 L773.21,300.71 L773.36,300.21 L773.50,299.71 L773.64,299.21 L773.79,298.71 L773.93,298.21 L774.07,297.71 L774.21,297.21 L774.35,296.71 L774.49,296.21 L774.63,295.71 L774.77,295.21 L774.91,294.71 L775.05,294.21 L775.19,293.71 L775.32,293.21 L775.46,292.71 L775.59,292.21 L775.73,291.71 L775.86,291.21 L776.00,290.71 L776.13,290.21 L776.26,289.71 L776.40,289.21 L776.53,288.71 L776.66,288.21 L776.79,287.71 L776.92,287.21 L777.05,286.71 L777.18,286.21 L777.31,285.71 L777.44,285.21 L777.57,284.71 L777.70,284.21 L777.83,283.71 L777.95,283.21 L778.08,282.71 L778.21,282.21 L778.33,281.71 L778.46,281.21 L778.59,280.71 L778.71,280.21 L778.84,279.71 L778.96,279.21 L779.09,278.71 L779.21,278.21 L779.33,277.71 L779.46,277.21 L779.58,276.71 L779.70,276.21 L779.83,275.71 L779.95,275.21 L780.07,274.71 L780.19,274.21 L780.32,273.71 L780.44,273.21 L780.56,272.71 L780.68,272.21 L780.80,271.71 L780.92,271.21 L781.04,270.71 L781.16,270.21 L781.28,269.71 L781.40,269.21 L781.52,268.71 L781.64,268.21 L781.76,267.71 L781.88,267.21 L782.00,266.71 L782.12,266.21 L782.24,265.71 L782.36,265.21 L782.47,264.71 L782.59,264.21 L782.71,263.71 L782.83,263.21 L782.95,262.71 L783.06,262.21 L783.18,261.71 L783.30,261.21 L783.41,260.71 L783.53,260.21 L783.65,259.71 L783.77,259.21 L783.88,258.71 L784.00,258.21 L784.11,257.71 L784.23,257.21 L784.35,256.71 L784.46,256.21 L784.58,255.71 L784.70,255.21 L784.81,254.71 L784.93,254.21 L785.04,253.71 L785.16,253.21 L785.27,252.71 L785.39,252.21 L785.50,251.71 L785.62,251.21 L785.74,250.71 L785.85,250.21 L785.97,249.71 L786.08,249.21 L786.20,248.71 L786.31,248.21 L786.43,247.71 L786.54,247.21 L786.66,246.71 L786.77,246.21 L786.88,245.71 L787.00,245.21 L787.11,244.71 L787.23,244.21 L787.34,243.71 L787.46,243.21 L787.57,242.71 L787.69,242.21 L787.80,241.71 L787.92,241.21 L788.03,240.71 L788.15,240.21 L788.26,239.71 L788.38,239.21 L788.49,238.71 L788.60,238.21 L788.72,237.71 L788.83,237.21 L788.95,236.71 L789.06,236.21 L789.18,235.71 L789.29,235.21 L789.41,234.71 L789.52,234.21 L789.64,233.71 L789.75,233.21 L789.87,232.71 L789.98,232.21 L790.10,231.71 L790.21,231.21 L790.33,230.71 L790.44,230.21 L790.56,229.71 L790.67,229.21 L790.79,228.71 L790.90,228.21 L791.02,227.71 L791.13,227.21 L791.25,226.71 L791.36,226.21 L791.48,225.71 L791.59,225.21 L791.71,224.71 L791.83,224.21 L791.94,223.71 L792.06,223.21 L792.17,222.71 L792.29,222.21 L792.41,221.71 L792.52,221.21 L792.64,220.71 L792.75,220.21 L792.87,219.71 L792.99,219.21 L793.10,218.71 L793.22,218.21 L793.34,217.71 L793.45,217.21 L793.57,216.71 L793.69,216.21 L793.81,215.71 L793.92,215.21 L794.04,214.71 L794.16,214.21 L794.28,213.71 L794.39,213.21 L794.51,212.71 L794.63,212.21 L794.75,211.71 L794.87,211.21 L794.99,210.71 L795.10,210.21 L795.22,209.71 L795.34,209.21 L795.46,208.71 L795.58,208.21 L795.70,207.71 L795.82,207.21 L795.94,206.71 L796.06,206.21 L796.18,205.71 L796.30,205.21 L796.42,204.71 L796.54,204.21 L796.66,203.71 L796.78,203.21 L796.90,202.71 L797.02,202.21 L797.14,201.71 L797.26,201.21 L797.39,200.71 L797.51,200.21 L797.63,199.71 L797.75,199.21 L797.87,198.71 L798.00,198.21 L798.12,197.71 L798.24,197.21 L798.36,196.71 L798.49,196.21 L798.61,195.71 L798.73,195.21 L798.86,194.71 L798.98,194.21 L799.10,193.71 L799.23,193.21 L799.35,192.71 L799.48,192.21 L799.60,191.71 L799.73,191.21 L799.85,190.71 L799.98,190.21 L800.10,189.71 L800.23,189.21 L800.35,188.71 L800.48,188.21 L800.61,187.71 L800.73,187.21 L800.86,186.71 L800.98,186.21 L801.11,185.71 L801.24,185.21 L801.37,184.71 L801.49,184.21 L801.62,183.71 L801.75,183.21 L801.88,182.71 L802.01,182.21 L802.13,181.71 L802.26,181.21 L802.39,180.71 L802.52,180.21 L802.65,179.71 L802.78,179.21 L802.91,178.71 L803.04,178.21 L803.17,177.71 L803.30,177.21 L803.43,176.71 L803.56,176.21 L803.69,175.71 L803.82,175.21 L803.95,174.71 L804.09,174.21 L804.22,173.71 L804.35,173.21 L804.48,172.71 L804.62,172.21 L804.75,171.71 L804.88,171.21 L805.01,170.71 L805.15,170.21 L805.28,169.71 L805.42,169.21 L805.55,168.71 L805.68,168.21 L805.82,167.71 L805.95,167.21 L806.09,166.71 L806.23,166.21 L806.36,165.71 L806.50,165.21 L806.63,164.71 L806.77,164.21 L806.91,163.71 L807.04,163.21 L807.18,162.71 L807.32,162.21 L807.46,161.71 L807.59,161.21 L807.73,160.71 L807.87,160.21 L808.01,159.71 L808.15,159.21 L808.29,158.71 L808.43,158.21 L808.57,157.71 L808.71,157.21 L808.85,156.71 L808.99,156.21 L809.13,155.71 L809.27,155.21 L809.41,154.71 L809.56,154.21 L809.70,153.71 L809.84,153.21 L809.98,152.71 L810.13,152.21 L810.27,151.71 L810.41,151.21 L810.56,150.71 L810.70,150.21 L810.85,149.71 L810.99,149.21 L811.14,148.71 L811.28,148.21 L811.43,147.71 L811.58,147.21 L811.72,146.71 L811.87,146.21 L812.02,145.71 L812.17,145.21 L812.31,144.71 L812.46,144.21 L812.61,143.71 L812.76,143.21 L812.91,142.71 L813.06,142.21 L813.21,141.71 L813.36,141.21 L813.51,140.71 L813.66,140.21 L813.81,139.71 L813.96,139.21 L814.12,138.71 L814.27,138.21 L814.42,137.71 L814.58,137.21 L814.73,136.71 L814.88,136.21 L815.04,135.71 L815.19,135.21 L815.35,134.71 L815.50,134.21 L815.66,133.71 L815.82,133.21 L815.97,132.71 L816.13,132.21 L816.29,131.71 L816.45,131.21 L816.61,130.71 L816.77,130.21 L816.92,129.71 L817.08,129.21 L817.25,128.71 L817.41,128.21 L817.57,127.71 L817.73,127.21 L817.89,126.71 L818.05,126.21 L818.22,125.71 L818.38,125.21 L818.54,124.71 L818.71,124.21 L818.87,123.71 L819.04,123.21 L819.20,122.71 L819.37,122.21 L819.54,121.71 L819.71,121.21 L819.87,120.71 L820.04,120.21 L820.21,119.71 L820.38,119.21 L820.55,118.71 L820.72,118.21 L820.89,117.71 L821.06,117.21 L821.23,116.71 L821.41,116.21 L821.58,115.71 L821.75,115.21 L821.93,114.71 L822.10,114.21 L822.28,113.71 L822.46,113.21 L822.63,112.71 L822.81,112.21 L822.99,111.71 L823.16,111.21 L823.34,110.71 L823.52,110.21 L823.70,109.71 L823.88,109.21 L824.07,108.71 L824.25,108.21 L824.43,107.71 L824.61,107.21 L824.80,106.71 L824.98,106.21 L825.17,105.71 L825.35,105.21 L825.54,104.71 L825.73,104.21 L825.92,103.71 L826.11,103.21 L826.30,102.71 L826.49,102.21 L826.68,101.71 L826.87,101.21 L827.06,100.71 L827.25,100.21 L827.45,99.71 L827.64,99.21 L827.84,98.71 L828.04,98.21 L828.23,97.71 L828.43,97.21 L828.63,96.71 L828.83,96.21 L829.03,95.71 L829.23,95.21 L829.43,94.71 L829.64,94.21 L829.84,93.71 L830.05,93.21 L830.25,92.71 L830.46,92.21 L830.67,91.71 L830.88,91.21 L831.09,90.71 L831.30,90.21 L831.51,89.71 L831.72,89.21 L831.93,88.71 L832.15,88.21 L832.37,87.71 L832.58,87.21 L832.80,86.71 L833.02,86.21 L833.24,85.71 L833.46,85.21 L833.68,84.71 L833.91,84.21 L834.13,83.71 L834.36,83.21 L834.58,82.71 L834.81,82.21 L835.04,81.71 L835.27,81.21 L835.50,80.71 L835.74,80.21 L835.97,79.71 L836.21,79.21 L836.45,78.71 L836.68,78.21 L836.92,77.71 L837.17,77.21 L837.41,76.71 L837.65,76.21 L837.90,75.71 L838.15,75.21 L838.39,74.71 L838.65,74.21 L838.90,73.71 L839.15,73.21 L839.41,72.71 L839.66,72.21 L839.92,71.71 L840.18,71.21 L840.44,70.71 L840.71,70.21 L840.97,69.71 L841.24,69.21 L841.51,68.71 L841.78,68.21 L842.05,67.71 L842.33,67.21 L842.61,66.71 L842.89,66.21 L843.17,65.71 L843.45,65.21 L843.74,64.71 L844.03,64.21 L844.32,63.71 L844.61,63.21 L844.90,62.71 L845.20,62.21 L845.50,61.71 L845.80,61.21 L846.11,60.71 L846.42,60.21 L846.73,59.71 L847.04,59.21 L847.36,58.71 L847.68,58.21 L848.00,57.71 L848.32,57.21 L848.65,56.71 L848.98,56.21 L849.32,55.71 L849.66,55.21 L850.00,54.71 L850.34,54.21 L850.69,53.71 L851.05,53.21 L851.40,52.71 L851.77,52.21 L852.13,51.71 L852.50,51.21 L852.87,50.71 L853.25,50.21 L853.64,49.71 L854.02,49.21 L854.42,48.71 L854.82,48.21 L855.22,47.71 L855.63,47.21 L856.04,46.71 L856.46,46.21 L856.89,45.71 L857.32,45.21 L857.76,44.71 L858.21,44.21 L858.66,43.71 L859.12,43.21 L859.59,42.71 L860.07,42.21 L860.55,41.71 L861.04,41.21 L861.54,40.71 L862.05,40.21 L862.57,39.71 L863.10,39.21 L863.64,38.71 L864.20,38.21 L864.76,37.71 L865.33,37.21 L865.92,36.71 L866.52,36.21 L867.13,35.71 L867.76,35.21 L868.40,34.71 L869.06,34.21 L869.73,33.71 L870.43,33.21 L871.14,32.71 L871.86,32.21 L872.58,31.73 L873.30,31.26 L874.03,30.81 L874.75,30.37 L875.47,29.93 L876.19,29.52 L876.91,29.11 L877.64,28.71 L878.36,28.33 L879.08,27.95 L879.80,27.59 L880.52,27.24 L881.24,26.89 L881.97,26.56 L882.69,26.24 L883.41,25.92 L884.13,25.62 L884.85,25.32 L885.57,25.03 L886.29,24.75 L887.01,24.48 L887.74,24.22 L888.46,23.96 L889.18,23.71 L889.90,23.47 L890.62,23.24 L891.34,23.01 L892.06,22.79 L892.78,22.58 L893.50,22.38 L894.22,22.18 L894.94,21.98 L895.66,21.80 L896.38,21.61 L897.10,21.44 L897.82,21.27 L898.53,21.10 L899.25,20.94 L899.97,20.79 L900.69,20.64 L901.41,20.49 L902.13,20.35 L902.41,20.30 L1081.10,14.95" fill="none" stroke-linejoin="round" stroke="#ec1c24" stroke-width="2" stroke-dasharray="2 5.7"/>
<text x="721.60" y="371.7" font-family="Liberation Sans, Arial, Helvetica, sans-serif" font-weight="bold" font-size="21.0" fill="#e8222c" textLength="147.40" lengthAdjust="spacingAndGlyphs">HC<tspan dy="3.4" font-size="13.2" dx="0.6">5</tspan><tspan dy="-3.4" dx="2.6"> = 2.65 µg/L</tspan></text>
<text x="881.50" y="237.00" font-family="Liberation Sans, Arial, Helvetica, sans-serif" font-weight="bold" font-size="19.30" fill="#000" textLength="42.4" lengthAdjust="spacingAndGlyphs">level</text>
<rect x="886.00" y="254.60" width="11.00" height="11.00" fill="#4f5bb1"/>
<text x="911.90" y="266.90" font-family="Liberation Sans, Arial, Helvetica, sans-serif" font-weight="bold" font-size="19.00" fill="#000" textLength="53.80" lengthAdjust="spacingAndGlyphs">Algae</text>
<circle cx="891.50" cy="281.30" r="5.5" fill="#d03b33"/>
<text x="911.90" y="288.10" font-family="Liberation Sans, Arial, Helvetica, sans-serif" font-weight="bold" font-size="19.00" fill="#000" textLength="95.80" lengthAdjust="spacingAndGlyphs">Arthropod</text>
<polygon points="891.50,294.07 884.20,306.71 898.80,306.71" fill="#6f9d5c"/>
<text x="911.90" y="309.30" font-family="Liberation Sans, Arial, Helvetica, sans-serif" font-weight="bold" font-size="19.00" fill="#000" textLength="78.20" lengthAdjust="spacingAndGlyphs">Bacteria</text>
</g>
<rect x="576.10" y="0" width="438.90" height="1" fill="#dcdcdc"/>
<line x1="576.65" y1="0" x2="576.65" y2="381.90" stroke="#3a3a3a" stroke-width="1.10"/>
<line x1="1014.45" y1="0" x2="1014.45" y2="381.90" stroke="#3a3a3a" stroke-width="1.10"/>
<line x1="576.10" y1="381.55" x2="1015.00" y2="381.55" stroke="#3a3a3a" stroke-width="1.1"/>
</g>
<g>
<line x1="1116.68" y1="381.80" x2="1116.68" y2="384.10" stroke="#9a9a9a" stroke-width="1"/>
<text x="1107.70" y="399.2" font-family="Liberation Sans, Arial, Helvetica, sans-serif" font-weight="bold" font-size="19.80" fill="#000" textLength="17.96" lengthAdjust="spacingAndGlyphs">-2</text>
<line x1="1216.40" y1="381.80" x2="1216.40" y2="384.10" stroke="#9a9a9a" stroke-width="1"/>
<text x="1210.78" y="399.2" font-family="Liberation Sans, Arial, Helvetica, sans-serif" font-weight="bold" font-size="19.80" fill="#000" textLength="11.23" lengthAdjust="spacingAndGlyphs">0</text>
<line x1="1316.12" y1="381.80" x2="1316.12" y2="384.10" stroke="#9a9a9a" stroke-width="1"/>
<text x="1310.50" y="399.2" font-family="Liberation Sans, Arial, Helvetica, sans-serif" font-weight="bold" font-size="19.80" fill="#000" textLength="11.23" lengthAdjust="spacingAndGlyphs">2</text>
<line x1="1415.84" y1="381.80" x2="1415.84" y2="384.10" stroke="#9a9a9a" stroke-width="1"/>
<text x="1410.22" y="399.2" font-family="Liberation Sans, Arial, Helvetica, sans-serif" font-weight="bold" font-size="19.80" fill="#000" textLength="11.23" lengthAdjust="spacingAndGlyphs">4</text>
<line x1="1515.56" y1="381.80" x2="1515.56" y2="384.10" stroke="#9a9a9a" stroke-width="1"/>
<text x="1509.94" y="399.2" font-family="Liberation Sans, Arial, Helvetica, sans-serif" font-weight="bold" font-size="19.80" fill="#000" textLength="11.23" lengthAdjust="spacingAndGlyphs">6</text>
<line x1="1095.00" y1="358.20" x2="1096.50" y2="358.20" stroke="#777" stroke-width="1"/>
<text x="1082.91" y="365.80" font-family="Liberation Sans, Arial, Helvetica, sans-serif" font-weight="bold" font-size="21.30" fill="#000" textLength="10.79" lengthAdjust="spacingAndGlyphs">0</text>
<line x1="1095.00" y1="272.85" x2="1096.50" y2="272.85" stroke="#777" stroke-width="1"/>
<text x="1072.13" y="280.45" font-family="Liberation Sans, Arial, Helvetica, sans-serif" font-weight="bold" font-size="21.30" fill="#000" textLength="21.57" lengthAdjust="spacingAndGlyphs">25</text>
<line x1="1095.00" y1="187.50" x2="1096.50" y2="187.50" stroke="#777" stroke-width="1"/>
<text x="1072.13" y="195.10" font-family="Liberation Sans, Arial, Helvetica, sans-serif" font-weight="bold" font-size="21.30" fill="#000" textLength="21.57" lengthAdjust="spacingAndGlyphs">50</text>
<line x1="1095.00" y1="102.15" x2="1096.50" y2="102.15" stroke="#777" stroke-width="1"/>
<text x="1072.13" y="109.75" font-family="Liberation Sans, Arial, Helvetica, sans-serif" font-weight="bold" font-size="21.30" fill="#000" textLength="21.57" lengthAdjust="spacingAndGlyphs">75</text>
<line x1="1095.00" y1="16.80" x2="1096.50" y2="16.80" stroke="#777" stroke-width="1"/>
<text x="1061.34" y="24.40" font-family="Liberation Sans, Arial, Helvetica, sans-serif" font-weight="bold" font-size="21.30" fill="#000" textLength="32.36" lengthAdjust="spacingAndGlyphs">100</text>
<text x="1231.20" y="418.7" font-family="Liberation Sans, Arial, Helvetica, sans-serif" font-weight="bold" font-size="19.30" fill="#000" textLength="29.3" lengthAdjust="spacingAndGlyphs">log</text>
<text x="1259.80" y="425.4" font-family="Liberation Sans, Arial, Helvetica, sans-serif" font-weight="bold" font-size="12.8" fill="#000" textLength="12.4" lengthAdjust="spacingAndGlyphs">10</text>
<text x="1277.60" y="418.7" font-family="Liberation Sans, Arial, Helvetica, sans-serif" font-weight="bold" font-size="19.30" fill="#000" textLength="124.4" lengthAdjust="spacingAndGlyphs">(NOEC(µg/L))</text>
<text transform="translate(1056.00,190.4) rotate(-90)" text-anchor="middle" font-family="Liberation Sans, Arial, Helvetica, sans-serif" font-weight="bold" font-size="20.80" fill="#000" textLength="182" lengthAdjust="spacingAndGlyphs">Fraction affected %</text>
<clipPath id="clipC"><rect x="1097.00" y="0.50" width="438.60" height="380.80"/></clipPath>
<g clip-path="url(#clipC)">
<text x="1115.70" y="40.6" font-family="Liberation Sans, Arial, Helvetica, sans-serif" font-size="29.6" fill="#000" textLength="17.00" lengthAdjust="spacingAndGlyphs">C</text>
<circle cx="1201.30" cy="333.81" r="5.5" fill="#d03b33"/>
<circle cx="1220.10" cy="285.04" r="5.5" fill="#d03b33"/>
<polygon points="1266.00,230.89 1271.40,236.29 1266.00,241.69 1260.60,236.29" fill="#ebe483"/>
<polygon points="1268.10,179.07 1260.80,191.71 1275.40,191.71" fill="#6f9d5c"/>
<circle cx="1271.60" cy="138.71" r="5.5" fill="#d03b33"/>
<rect x="1288.40" y="84.46" width="11.00" height="11.00" fill="#4f5bb1"/>
<rect x="1301.80" y="35.68" width="11.00" height="11.00" fill="#4f5bb1"/>
<text x="1221.80" y="38.70" font-family="Liberation Sans, Arial, Helvetica, sans-serif" font-weight="bold" font-style="italic" font-size="19.70" fill="#000" textLength="191.70" lengthAdjust="spacingAndGlyphs">Nitzschia closterium</text>
<text x="1196.60" y="87.20" font-family="Liberation Sans, Arial, Helvetica, sans-serif" font-weight="bold" font-style="italic" font-size="19.70" fill="#000" textLength="215.30" lengthAdjust="spacingAndGlyphs">Skeletonema costatum</text>
<text x="1187.80" y="136.10" font-family="Liberation Sans, Arial, Helvetica, sans-serif" font-weight="bold" font-style="italic" font-size="19.70" fill="#000" textLength="188.70" lengthAdjust="spacingAndGlyphs">Artemia franciscana</text>
<text x="1192.50" y="185.00" font-family="Liberation Sans, Arial, Helvetica, sans-serif" font-weight="bold" font-style="italic" font-size="19.70" fill="#000" textLength="173.40" lengthAdjust="spacingAndGlyphs">Vibrio anguillarum</text>
<text x="1141.20" y="251.80" font-family="Liberation Sans, Arial, Helvetica, sans-serif" font-weight="bold" font-style="italic" font-size="19.70" fill="#000" textLength="229.40" lengthAdjust="spacingAndGlyphs">Mytilus galloprovincialis</text>
<text x="1134.10" y="300.70" font-family="Liberation Sans, Arial, Helvetica, sans-serif" font-weight="bold" font-style="italic" font-size="19.70" fill="#000" textLength="152.30" lengthAdjust="spacingAndGlyphs">Tigriopus fulvus</text>
<text x="1098.30" y="349.40" font-family="Liberation Sans, Arial, Helvetica, sans-serif" font-weight="bold" font-style="italic" font-size="19.70" fill="#000" textLength="193.00" lengthAdjust="spacingAndGlyphs">Brachionus plicatilis</text>
<path d="M1097.00,341.13 H1203.40 V381.30" fill="none" stroke="#000" stroke-width="1.15" stroke-dasharray="5.2 4.4"/>
<path d="M1179.36,355.00 L1180.07,354.83 L1180.78,354.64 L1181.48,354.45 L1182.19,354.25 L1182.90,354.04 L1183.60,353.82 L1184.31,353.59 L1185.01,353.35 L1185.72,353.10 L1186.42,352.84 L1187.13,352.57 L1187.83,352.29 L1188.54,351.99 L1189.24,351.68 L1189.95,351.36 L1190.65,351.02 L1191.35,350.67 L1192.06,350.31 L1192.76,349.93 L1193.47,349.54 L1194.17,349.13 L1194.87,348.70 L1195.58,348.26 L1196.28,347.80 L1196.98,347.32 L1197.69,346.82 L1198.37,346.32 L1199.03,345.82 L1199.67,345.32 L1200.29,344.82 L1200.89,344.32 L1201.47,343.82 L1202.04,343.32 L1202.59,342.82 L1203.12,342.32 L1203.65,341.82 L1204.16,341.32 L1204.65,340.82 L1205.14,340.32 L1205.62,339.82 L1206.08,339.32 L1206.54,338.82 L1206.98,338.32 L1207.42,337.82 L1207.85,337.32 L1208.27,336.82 L1208.69,336.32 L1209.09,335.82 L1209.49,335.32 L1209.88,334.82 L1210.27,334.32 L1210.65,333.82 L1211.02,333.32 L1211.39,332.82 L1211.75,332.32 L1212.11,331.82 L1212.46,331.32 L1212.81,330.82 L1213.15,330.32 L1213.49,329.82 L1213.82,329.32 L1214.15,328.82 L1214.47,328.32 L1214.79,327.82 L1215.11,327.32 L1215.42,326.82 L1215.73,326.32 L1216.03,325.82 L1216.34,325.32 L1216.63,324.82 L1216.93,324.32 L1217.22,323.82 L1217.51,323.32 L1217.80,322.82 L1218.08,322.32 L1218.36,321.82 L1218.64,321.32 L1218.91,320.82 L1219.18,320.32 L1219.45,319.82 L1219.72,319.32 L1219.98,318.82 L1220.24,318.32 L1220.50,317.82 L1220.76,317.32 L1221.01,316.82 L1221.27,316.32 L1221.52,315.82 L1221.76,315.32 L1222.01,314.82 L1222.25,314.32 L1222.50,313.82 L1222.74,313.32 L1222.98,312.82 L1223.21,312.32 L1223.45,311.82 L1223.68,311.32 L1223.91,310.82 L1224.14,310.32 L1224.37,309.82 L1224.60,309.32 L1224.82,308.82 L1225.05,308.32 L1225.27,307.82 L1225.49,307.32 L1225.71,306.82 L1225.93,306.32 L1226.14,305.82 L1226.36,305.32 L1226.57,304.82 L1226.78,304.32 L1226.99,303.82 L1227.20,303.32 L1227.41,302.82 L1227.62,302.32 L1227.82,301.82 L1228.03,301.32 L1228.23,300.82 L1228.43,300.32 L1228.63,299.82 L1228.83,299.32 L1229.03,298.82 L1229.23,298.32 L1229.43,297.82 L1229.62,297.32 L1229.82,296.82 L1230.01,296.32 L1230.20,295.82 L1230.40,295.32 L1230.59,294.82 L1230.78,294.32 L1230.97,293.82 L1231.15,293.32 L1231.34,292.82 L1231.53,292.32 L1231.71,291.82 L1231.90,291.32 L1232.08,290.82 L1232.26,290.32 L1232.45,289.82 L1232.63,289.32 L1232.81,288.82 L1232.99,288.32 L1233.17,287.82 L1233.34,287.32 L1233.52,286.82 L1233.70,286.32 L1233.87,285.82 L1234.05,285.32 L1234.22,284.82 L1234.40,284.32 L1234.57,283.82 L1234.74,283.32 L1234.91,282.82 L1235.08,282.32 L1235.26,281.82 L1235.43,281.32 L1235.59,280.82 L1235.76,280.32 L1235.93,279.82 L1236.10,279.32 L1236.26,278.82 L1236.43,278.32 L1236.60,277.82 L1236.76,277.32 L1236.93,276.82 L1237.09,276.32 L1237.25,275.82 L1237.41,275.32 L1237.58,274.82 L1237.74,274.32 L1237.90,273.82 L1238.06,273.32 L1238.22,272.82 L1238.38,272.32 L1238.54,271.82 L1238.70,271.32 L1238.86,270.82 L1239.01,270.32 L1239.17,269.82 L1239.33,269.32 L1239.48,268.82 L1239.64,268.32 L1239.79,267.82 L1239.95,267.32 L1240.10,266.82 L1240.26,266.32 L1240.41,265.82 L1240.56,265.32 L1240.72,264.82 L1240.87,264.32 L1241.02,263.82 L1241.17,263.32 L1241.32,262.82 L1241.47,262.32 L1241.62,261.82 L1241.77,261.32 L1241.92,260.82 L1242.07,260.32 L1242.22,259.82 L1242.37,259.32 L1242.52,258.82 L1242.67,258.32 L1242.81,257.82 L1242.96,257.32 L1243.11,256.82 L1243.25,256.32 L1243.40,255.82 L1243.55,255.32 L1243.69,254.82 L1243.84,254.32 L1243.98,253.82 L1244.13,253.32 L1244.27,252.82 L1244.41,252.32 L1244.56,251.82 L1244.70,251.32 L1244.84,250.82 L1244.99,250.32 L1245.13,249.82 L1245.27,249.32 L1245.41,248.82 L1245.55,248.32 L1245.69,247.82 L1245.84,247.32 L1245.98,246.82 L1246.12,246.32 L1246.26,245.82 L1246.40,245.32 L1246.54,244.82 L1246.68,244.32 L1246.81,243.82 L1246.95,243.32 L1247.09,242.82 L1247.23,242.32 L1247.37,241.82 L1247.51,241.32 L1247.65,240.82 L1247.78,240.32 L1247.92,239.82 L1248.06,239.32 L1248.19,238.82 L1248.33,238.32 L1248.47,237.82 L1248.60,237.32 L1248.74,236.82 L1248.88,236.32 L1249.01,235.82 L1249.15,235.32 L1249.28,234.82 L1249.42,234.32 L1249.55,233.82 L1249.69,233.32 L1249.82,232.82 L1249.96,232.32 L1250.09,231.82 L1250.22,231.32 L1250.36,230.82 L1250.49,230.32 L1250.62,229.82 L1250.76,229.32 L1250.89,228.82 L1251.02,228.32 L1251.16,227.82 L1251.29,227.32 L1251.42,226.82 L1251.55,226.32 L1251.69,225.82 L1251.82,225.32 L1251.95,224.82 L1252.08,224.32 L1252.21,223.82 L1252.35,223.32 L1252.48,222.82 L1252.61,222.32 L1252.74,221.82 L1252.87,221.32 L1253.00,220.82 L1253.13,220.32 L1253.26,219.82 L1253.39,219.32 L1253.52,218.82 L1253.65,218.32 L1253.78,217.82 L1253.91,217.32 L1254.04,216.82 L1254.17,216.32 L1254.30,215.82 L1254.43,215.32 L1254.56,214.82 L1254.69,214.32 L1254.82,213.82 L1254.95,213.32 L1255.08,212.82 L1255.21,212.32 L1255.34,211.82 L1255.46,211.32 L1255.59,210.82 L1255.72,210.32 L1255.85,209.82 L1255.98,209.32 L1256.11,208.82 L1256.24,208.32 L1256.36,207.82 L1256.49,207.32 L1256.62,206.82 L1256.75,206.32 L1256.88,205.82 L1257.00,205.32 L1257.13,204.82 L1257.26,204.32 L1257.39,203.82 L1257.51,203.32 L1257.64,202.82 L1257.77,202.32 L1257.90,201.82 L1258.02,201.32 L1258.15,200.82 L1258.28,200.32 L1258.41,199.82 L1258.53,199.32 L1258.66,198.82 L1258.79,198.32 L1258.92,197.82 L1259.04,197.32 L1259.17,196.82 L1259.30,196.32 L1259.42,195.82 L1259.55,195.32 L1259.68,194.82 L1259.80,194.32 L1259.93,193.82 L1260.06,193.32 L1260.18,192.82 L1260.31,192.32 L1260.44,191.82 L1260.56,191.32 L1260.69,190.82 L1260.82,190.32 L1260.94,189.82 L1261.07,189.32 L1261.20,188.82 L1261.32,188.32 L1261.45,187.82 L1261.58,187.32 L1261.70,186.82 L1261.83,186.32 L1261.96,185.82 L1262.08,185.32 L1262.21,184.82 L1262.34,184.32 L1262.46,183.82 L1262.59,183.32 L1262.72,182.82 L1262.84,182.32 L1262.97,181.82 L1263.10,181.32 L1263.22,180.82 L1263.35,180.32 L1263.48,179.82 L1263.60,179.32 L1263.73,178.82 L1263.86,178.32 L1263.99,177.82 L1264.11,177.32 L1264.24,176.82 L1264.37,176.32 L1264.49,175.82 L1264.62,175.32 L1264.75,174.82 L1264.87,174.32 L1265.00,173.82 L1265.13,173.32 L1265.26,172.82 L1265.38,172.32 L1265.51,171.82 L1265.64,171.32 L1265.77,170.82 L1265.89,170.32 L1266.02,169.82 L1266.15,169.32 L1266.28,168.82 L1266.40,168.32 L1266.53,167.82 L1266.66,167.32 L1266.79,166.82 L1266.92,166.32 L1267.04,165.82 L1267.17,165.32 L1267.30,164.82 L1267.43,164.32 L1267.56,163.82 L1267.69,163.32 L1267.81,162.82 L1267.94,162.32 L1268.07,161.82 L1268.20,161.32 L1268.33,160.82 L1268.46,160.32 L1268.59,159.82 L1268.72,159.32 L1268.85,158.82 L1268.98,158.32 L1269.11,157.82 L1269.24,157.32 L1269.37,156.82 L1269.50,156.32 L1269.63,155.82 L1269.76,155.32 L1269.89,154.82 L1270.02,154.32 L1270.15,153.82 L1270.28,153.32 L1270.41,152.82 L1270.54,152.32 L1270.67,151.82 L1270.80,151.32 L1270.93,150.82 L1271.06,150.32 L1271.19,149.82 L1271.33,149.32 L1271.46,148.82 L1271.59,148.32 L1271.72,147.82 L1271.85,147.32 L1271.99,146.82 L1272.12,146.32 L1272.25,145.82 L1272.38,145.32 L1272.52,144.82 L1272.65,144.32 L1272.78,143.82 L1272.92,143.32 L1273.05,142.82 L1273.19,142.32 L1273.32,141.82 L1273.45,141.32 L1273.59,140.82 L1273.72,140.32 L1273.86,139.82 L1273.99,139.32 L1274.13,138.82 L1274.26,138.32 L1274.40,137.82 L1274.53,137.32 L1274.67,136.82 L1274.81,136.32 L1274.94,135.82 L1275.08,135.32 L1275.22,134.82 L1275.35,134.32 L1275.49,133.82 L1275.63,133.32 L1275.76,132.82 L1275.90,132.32 L1276.04,131.82 L1276.18,131.32 L1276.32,130.82 L1276.46,130.32 L1276.59,129.82 L1276.73,129.32 L1276.87,128.82 L1277.01,128.32 L1277.15,127.82 L1277.29,127.32 L1277.43,126.82 L1277.57,126.32 L1277.72,125.82 L1277.86,125.32 L1278.00,124.82 L1278.14,124.32 L1278.28,123.82 L1278.43,123.32 L1278.57,122.82 L1278.71,122.32 L1278.85,121.82 L1279.00,121.32 L1279.14,120.82 L1279.29,120.32 L1279.43,119.82 L1279.58,119.32 L1279.72,118.82 L1279.87,118.32 L1280.01,117.82 L1280.16,117.32 L1280.30,116.82 L1280.45,116.32 L1280.60,115.82 L1280.75,115.32 L1280.89,114.82 L1281.04,114.32 L1281.19,113.82 L1281.34,113.32 L1281.49,112.82 L1281.64,112.32 L1281.79,111.82 L1281.94,111.32 L1282.09,110.82 L1282.24,110.32 L1282.39,109.82 L1282.55,109.32 L1282.70,108.82 L1282.85,108.32 L1283.00,107.82 L1283.16,107.32 L1283.31,106.82 L1283.47,106.32 L1283.62,105.82 L1283.78,105.32 L1283.93,104.82 L1284.09,104.32 L1284.25,103.82 L1284.40,103.32 L1284.56,102.82 L1284.72,102.32 L1284.88,101.82 L1285.04,101.32 L1285.20,100.82 L1285.36,100.32 L1285.52,99.82 L1285.68,99.32 L1285.84,98.82 L1286.00,98.32 L1286.17,97.82 L1286.33,97.32 L1286.50,96.82 L1286.66,96.32 L1286.83,95.82 L1286.99,95.32 L1287.16,94.82 L1287.32,94.32 L1287.49,93.82 L1287.66,93.32 L1287.83,92.82 L1288.00,92.32 L1288.17,91.82 L1288.34,91.32 L1288.51,90.82 L1288.68,90.32 L1288.86,89.82 L1289.03,89.32 L1289.20,88.82 L1289.38,88.32 L1289.55,87.82 L1289.73,87.32 L1289.91,86.82 L1290.09,86.32 L1290.26,85.82 L1290.44,85.32 L1290.62,84.82 L1290.81,84.32 L1290.99,83.82 L1291.17,83.32 L1291.35,82.82 L1291.54,82.32 L1291.72,81.82 L1291.91,81.32 L1292.10,80.82 L1292.28,80.32 L1292.47,79.82 L1292.66,79.32 L1292.85,78.82 L1293.04,78.32 L1293.24,77.82 L1293.43,77.32 L1293.63,76.82 L1293.82,76.32 L1294.02,75.82 L1294.22,75.32 L1294.41,74.82 L1294.61,74.32 L1294.82,73.82 L1295.02,73.32 L1295.22,72.82 L1295.43,72.32 L1295.63,71.82 L1295.84,71.32 L1296.05,70.82 L1296.26,70.32 L1296.47,69.82 L1296.68,69.32 L1296.89,68.82 L1297.11,68.32 L1297.32,67.82 L1297.54,67.32 L1297.76,66.82 L1297.98,66.32 L1298.20,65.82 L1298.43,65.32 L1298.65,64.82 L1298.88,64.32 L1299.11,63.82 L1299.34,63.32 L1299.57,62.82 L1299.80,62.32 L1300.04,61.82 L1300.28,61.32 L1300.52,60.82 L1300.76,60.32 L1301.00,59.82 L1301.25,59.32 L1301.49,58.82 L1301.74,58.32 L1301.99,57.82 L1302.25,57.32 L1302.50,56.82 L1302.76,56.32 L1303.02,55.82 L1303.28,55.32 L1303.55,54.82 L1303.81,54.32 L1304.08,53.82 L1304.36,53.32 L1304.63,52.82 L1304.91,52.32 L1305.19,51.82 L1305.48,51.32 L1305.76,50.82 L1306.05,50.32 L1306.35,49.82 L1306.64,49.32 L1306.94,48.82 L1307.25,48.32 L1307.55,47.82 L1307.87,47.32 L1308.18,46.82 L1308.50,46.32 L1308.82,45.82 L1309.15,45.32 L1309.48,44.82 L1309.82,44.32 L1310.16,43.82 L1310.50,43.32 L1310.85,42.82 L1311.21,42.32 L1311.57,41.82 L1311.94,41.32 L1312.31,40.82 L1312.69,40.32 L1313.07,39.82 L1313.46,39.32 L1313.86,38.82 L1314.26,38.32 L1314.68,37.82 L1315.10,37.32 L1315.53,36.82 L1315.96,36.32 L1316.41,35.82 L1316.86,35.32 L1317.33,34.82 L1317.80,34.32 L1318.29,33.82 L1318.79,33.32 L1319.30,32.82 L1319.82,32.32 L1320.36,31.82 L1320.91,31.32 L1321.48,30.82 L1322.06,30.32 L1322.67,29.82 L1323.29,29.32 L1323.93,28.82 L1324.59,28.32 L1325.28,27.82 L1326.00,27.32 L1326.72,26.83 L1327.45,26.37 L1328.18,25.92 L1328.90,25.48 L1329.63,25.07 L1330.35,24.67 L1331.08,24.29 L1331.80,23.92 L1332.53,23.57 L1333.25,23.24 L1333.98,22.92 L1334.70,22.61 L1335.43,22.31 L1336.15,22.03 L1336.88,21.77 L1337.60,21.51 L1338.33,21.26 L1339.05,21.03 L1339.77,20.81 L1340.50,20.60 L1341.22,20.39 L1341.94,20.20 L1342.34,20.10 L1601.60,14.95" fill="none" stroke-linejoin="round" stroke="#2f4fa8" stroke-width="2"/>
<path d="M1140.60,355.00 L1141.31,354.83 L1142.02,354.65 L1142.72,354.47 L1143.43,354.27 L1144.14,354.07 L1144.84,353.86 L1145.55,353.64 L1146.26,353.41 L1146.96,353.17 L1147.67,352.92 L1148.37,352.67 L1149.08,352.40 L1149.79,352.12 L1150.49,351.83 L1151.20,351.53 L1151.91,351.23 L1152.61,350.91 L1153.32,350.58 L1154.03,350.24 L1154.73,349.89 L1155.44,349.54 L1156.15,349.17 L1156.86,348.79 L1157.56,348.40 L1158.27,348.00 L1158.98,347.60 L1159.69,347.18 L1160.40,346.75 L1161.10,346.32 L1161.81,345.87 L1162.52,345.42 L1163.23,344.95 L1163.94,344.48 L1164.65,344.00 L1165.36,343.51 L1166.07,343.02 L1166.77,342.52 L1167.46,342.02 L1168.15,341.52 L1168.82,341.02 L1169.48,340.52 L1170.14,340.02 L1170.79,339.52 L1171.43,339.02 L1172.06,338.52 L1172.69,338.02 L1173.31,337.52 L1173.93,337.02 L1174.54,336.52 L1175.15,336.02 L1175.75,335.52 L1176.34,335.02 L1176.93,334.52 L1177.52,334.02 L1178.10,333.52 L1178.68,333.02 L1179.25,332.52 L1179.82,332.02 L1180.39,331.52 L1180.95,331.02 L1181.51,330.52 L1182.07,330.02 L1182.63,329.52 L1183.18,329.02 L1183.72,328.52 L1184.26,328.02 L1184.80,327.52 L1185.34,327.02 L1185.87,326.52 L1186.39,326.02 L1186.91,325.52 L1187.43,325.02 L1187.94,324.52 L1188.44,324.02 L1188.94,323.52 L1189.44,323.02 L1189.93,322.52 L1190.41,322.02 L1190.89,321.52 L1191.36,321.02 L1191.83,320.52 L1192.30,320.02 L1192.75,319.52 L1193.20,319.02 L1193.65,318.52 L1194.09,318.02 L1194.53,317.52 L1194.96,317.02 L1195.38,316.52 L1195.80,316.02 L1196.21,315.52 L1196.62,315.02 L1197.02,314.52 L1197.42,314.02 L1197.81,313.52 L1198.19,313.02 L1198.57,312.52 L1198.95,312.02 L1199.32,311.52 L1199.68,311.02 L1200.04,310.52 L1200.39,310.02 L1200.73,309.52 L1201.08,309.02 L1201.41,308.52 L1201.74,308.02 L1202.06,307.52 L1202.38,307.02 L1202.70,306.52 L1203.00,306.02 L1203.31,305.52 L1203.60,305.02 L1203.90,304.52 L1204.18,304.02 L1204.47,303.52 L1204.74,303.02 L1205.02,302.52 L1205.29,302.02 L1205.55,301.52 L1205.81,301.02 L1206.07,300.52 L1206.32,300.02 L1206.57,299.52 L1206.82,299.02 L1207.06,298.52 L1207.30,298.02 L1207.54,297.52 L1207.77,297.02 L1208.00,296.52 L1208.22,296.02 L1208.45,295.52 L1208.67,295.02 L1208.89,294.52 L1209.11,294.02 L1209.32,293.52 L1209.53,293.02 L1209.74,292.52 L1209.95,292.02 L1210.15,291.52 L1210.36,291.02 L1210.56,290.52 L1210.76,290.02 L1210.96,289.52 L1211.15,289.02 L1211.35,288.52 L1211.54,288.02 L1211.73,287.52 L1211.92,287.02 L1212.11,286.52 L1212.30,286.02 L1212.48,285.52 L1212.67,285.02 L1212.85,284.52 L1213.04,284.02 L1213.22,283.52 L1213.40,283.02 L1213.58,282.52 L1213.76,282.02 L1213.94,281.52 L1214.11,281.02 L1214.29,280.52 L1214.46,280.02 L1214.64,279.52 L1214.81,279.02 L1214.99,278.52 L1215.16,278.02 L1215.33,277.52 L1215.50,277.02 L1215.67,276.52 L1215.84,276.02 L1216.01,275.52 L1216.18,275.02 L1216.34,274.52 L1216.51,274.02 L1216.68,273.52 L1216.84,273.02 L1217.01,272.52 L1217.17,272.02 L1217.33,271.52 L1217.49,271.02 L1217.66,270.52 L1217.82,270.02 L1217.98,269.52 L1218.14,269.02 L1218.29,268.52 L1218.45,268.02 L1218.61,267.52 L1218.77,267.02 L1218.92,266.52 L1219.08,266.02 L1219.23,265.52 L1219.39,265.02 L1219.54,264.52 L1219.70,264.02 L1219.85,263.52 L1220.00,263.02 L1220.15,262.52 L1220.30,262.02 L1220.45,261.52 L1220.60,261.02 L1220.75,260.52 L1220.90,260.02 L1221.05,259.52 L1221.19,259.02 L1221.34,258.52 L1221.49,258.02 L1221.63,257.52 L1221.78,257.02 L1221.92,256.52 L1222.07,256.02 L1222.21,255.52 L1222.35,255.02 L1222.50,254.52 L1222.64,254.02 L1222.78,253.52 L1222.92,253.02 L1223.06,252.52 L1223.20,252.02 L1223.34,251.52 L1223.48,251.02 L1223.62,250.52 L1223.76,250.02 L1223.90,249.52 L1224.03,249.02 L1224.17,248.52 L1224.31,248.02 L1224.44,247.52 L1224.58,247.02 L1224.71,246.52 L1224.85,246.02 L1224.98,245.52 L1225.11,245.02 L1225.25,244.52 L1225.38,244.02 L1225.51,243.52 L1225.64,243.02 L1225.77,242.52 L1225.91,242.02 L1226.04,241.52 L1226.17,241.02 L1226.30,240.52 L1226.42,240.02 L1226.55,239.52 L1226.68,239.02 L1226.81,238.52 L1226.94,238.02 L1227.06,237.52 L1227.19,237.02 L1227.32,236.52 L1227.44,236.02 L1227.57,235.52 L1227.69,235.02 L1227.82,234.52 L1227.94,234.02 L1228.07,233.52 L1228.19,233.02 L1228.31,232.52 L1228.43,232.02 L1228.56,231.52 L1228.68,231.02 L1228.80,230.52 L1228.92,230.02 L1229.04,229.52 L1229.16,229.02 L1229.28,228.52 L1229.40,228.02 L1229.52,227.52 L1229.64,227.02 L1229.76,226.52 L1229.88,226.02 L1229.99,225.52 L1230.11,225.02 L1230.23,224.52 L1230.35,224.02 L1230.46,223.52 L1230.58,223.02 L1230.69,222.52 L1230.81,222.02 L1230.92,221.52 L1231.04,221.02 L1231.15,220.52 L1231.27,220.02 L1231.38,219.52 L1231.49,219.02 L1231.61,218.52 L1231.72,218.02 L1231.83,217.52 L1231.94,217.02 L1232.06,216.52 L1232.17,216.02 L1232.28,215.52 L1232.39,215.02 L1232.50,214.52 L1232.61,214.02 L1232.72,213.52 L1232.83,213.02 L1232.94,212.52 L1233.05,212.02 L1233.16,211.52 L1233.26,211.02 L1233.37,210.52 L1233.48,210.02 L1233.59,209.52 L1233.69,209.02 L1233.80,208.52 L1233.91,208.02 L1234.01,207.52 L1234.12,207.02 L1234.22,206.52 L1234.33,206.02 L1234.43,205.52 L1234.54,205.02 L1234.64,204.52 L1234.74,204.02 L1234.85,203.52 L1234.95,203.02 L1235.05,202.52 L1235.16,202.02 L1235.26,201.52 L1235.36,201.02 L1235.46,200.52 L1235.56,200.02 L1235.67,199.52 L1235.77,199.02 L1235.87,198.52 L1235.97,198.02 L1236.07,197.52 L1236.17,197.02 L1236.27,196.52 L1236.37,196.02 L1236.47,195.52 L1236.56,195.02 L1236.66,194.52 L1236.76,194.02 L1236.86,193.52 L1236.96,193.02 L1237.06,192.52 L1237.15,192.02 L1237.25,191.52 L1237.35,191.02 L1237.44,190.52 L1237.54,190.02 L1237.64,189.52 L1237.73,189.02 L1237.83,188.52 L1237.93,188.02 L1238.02,187.52 L1238.12,187.02 L1238.21,186.52 L1238.31,186.02 L1238.40,185.52 L1238.50,185.02 L1238.59,184.52 L1238.69,184.02 L1238.78,183.52 L1238.87,183.02 L1238.97,182.52 L1239.06,182.02 L1239.15,181.52 L1239.25,181.02 L1239.34,180.52 L1239.43,180.02 L1239.53,179.52 L1239.62,179.02 L1239.71,178.52 L1239.80,178.02 L1239.90,177.52 L1239.99,177.02 L1240.08,176.52 L1240.17,176.02 L1240.26,175.52 L1240.35,175.02 L1240.44,174.52 L1240.54,174.02 L1240.63,173.52 L1240.72,173.02 L1240.81,172.52 L1240.90,172.02 L1240.99,171.52 L1241.08,171.02 L1241.17,170.52 L1241.26,170.02 L1241.35,169.52 L1241.44,169.02 L1241.53,168.52 L1241.62,168.02 L1241.71,167.52 L1241.80,167.02 L1241.89,166.52 L1241.98,166.02 L1242.07,165.52 L1242.16,165.02 L1242.25,164.52 L1242.33,164.02 L1242.42,163.52 L1242.51,163.02 L1242.60,162.52 L1242.69,162.02 L1242.78,161.52 L1242.87,161.02 L1242.95,160.52 L1243.04,160.02 L1243.13,159.52 L1243.22,159.02 L1243.31,158.52 L1243.40,158.02 L1243.48,157.52 L1243.57,157.02 L1243.66,156.52 L1243.75,156.02 L1243.84,155.52 L1243.92,155.02 L1244.01,154.52 L1244.10,154.02 L1244.19,153.52 L1244.28,153.02 L1244.36,152.52 L1244.45,152.02 L1244.54,151.52 L1244.63,151.02 L1244.71,150.52 L1244.80,150.02 L1244.89,149.52 L1244.98,149.02 L1245.07,148.52 L1245.15,148.02 L1245.24,147.52 L1245.33,147.02 L1245.42,146.52 L1245.50,146.02 L1245.59,145.52 L1245.68,145.02 L1245.77,144.52 L1245.85,144.02 L1245.94,143.52 L1246.03,143.02 L1246.12,142.52 L1246.21,142.02 L1246.29,141.52 L1246.38,141.02 L1246.47,140.52 L1246.56,140.02 L1246.65,139.52 L1246.73,139.02 L1246.82,138.52 L1246.91,138.02 L1247.00,137.52 L1247.09,137.02 L1247.18,136.52 L1247.26,136.02 L1247.35,135.52 L1247.44,135.02 L1247.53,134.52 L1247.62,134.02 L1247.71,133.52 L1247.80,133.02 L1247.89,132.52 L1247.97,132.02 L1248.06,131.52 L1248.15,131.02 L1248.24,130.52 L1248.33,130.02 L1248.42,129.52 L1248.51,129.02 L1248.60,128.52 L1248.69,128.02 L1248.78,127.52 L1248.87,127.02 L1248.96,126.52 L1249.05,126.02 L1249.14,125.52 L1249.24,125.02 L1249.33,124.52 L1249.42,124.02 L1249.51,123.52 L1249.60,123.02 L1249.69,122.52 L1249.78,122.02 L1249.88,121.52 L1249.97,121.02 L1250.06,120.52 L1250.15,120.02 L1250.25,119.52 L1250.34,119.02 L1250.43,118.52 L1250.53,118.02 L1250.62,117.52 L1250.71,117.02 L1250.81,116.52 L1250.90,116.02 L1251.00,115.52 L1251.09,115.02 L1251.19,114.52 L1251.28,114.02 L1251.38,113.52 L1251.47,113.02 L1251.57,112.52 L1251.67,112.02 L1251.76,111.52 L1251.86,111.02 L1251.96,110.52 L1252.06,110.02 L1252.15,109.52 L1252.25,109.02 L1252.35,108.52 L1252.45,108.02 L1252.55,107.52 L1252.65,107.02 L1252.75,106.52 L1252.85,106.02 L1252.95,105.52 L1253.05,105.02 L1253.15,104.52 L1253.25,104.02 L1253.35,103.52 L1253.46,103.02 L1253.56,102.52 L1253.66,102.02 L1253.76,101.52 L1253.87,101.02 L1253.97,100.52 L1254.08,100.02 L1254.18,99.52 L1254.29,99.02 L1254.40,98.52 L1254.50,98.02 L1254.61,97.52 L1254.72,97.02 L1254.82,96.52 L1254.93,96.02 L1255.04,95.52 L1255.15,95.02 L1255.26,94.52 L1255.37,94.02 L1255.48,93.52 L1255.60,93.02 L1255.71,92.52 L1255.82,92.02 L1255.93,91.52 L1256.05,91.02 L1256.16,90.52 L1256.28,90.02 L1256.40,89.52 L1256.51,89.02 L1256.63,88.52 L1256.75,88.02 L1256.87,87.52 L1256.99,87.02 L1257.11,86.52 L1257.23,86.02 L1257.35,85.52 L1257.47,85.02 L1257.60,84.52 L1257.72,84.02 L1257.84,83.52 L1257.97,83.02 L1258.10,82.52 L1258.22,82.02 L1258.35,81.52 L1258.48,81.02 L1258.61,80.52 L1258.74,80.02 L1258.88,79.52 L1259.01,79.02 L1259.14,78.52 L1259.28,78.02 L1259.41,77.52 L1259.55,77.02 L1259.69,76.52 L1259.83,76.02 L1259.97,75.52 L1260.11,75.02 L1260.25,74.52 L1260.40,74.02 L1260.54,73.52 L1260.69,73.02 L1260.84,72.52 L1260.99,72.02 L1261.14,71.52 L1261.29,71.02 L1261.44,70.52 L1261.60,70.02 L1261.75,69.52 L1261.91,69.02 L1262.07,68.52 L1262.23,68.02 L1262.39,67.52 L1262.55,67.02 L1262.72,66.52 L1262.88,66.02 L1263.05,65.52 L1263.22,65.02 L1263.39,64.52 L1263.56,64.02 L1263.74,63.52 L1263.91,63.02 L1264.09,62.52 L1264.27,62.02 L1264.45,61.52 L1264.63,61.02 L1264.81,60.52 L1265.00,60.02 L1265.19,59.52 L1265.38,59.02 L1265.57,58.52 L1265.76,58.02 L1265.96,57.52 L1266.15,57.02 L1266.35,56.52 L1266.55,56.02 L1266.75,55.52 L1266.96,55.02 L1267.16,54.52 L1267.37,54.02 L1267.58,53.52 L1267.80,53.02 L1268.01,52.52 L1268.23,52.02 L1268.45,51.52 L1268.67,51.02 L1268.89,50.52 L1269.12,50.02 L1269.35,49.52 L1269.58,49.02 L1269.81,48.52 L1270.05,48.02 L1270.29,47.52 L1270.53,47.02 L1270.77,46.52 L1271.02,46.02 L1271.27,45.52 L1271.52,45.02 L1271.77,44.52 L1272.03,44.02 L1272.29,43.52 L1272.55,43.02 L1272.82,42.52 L1273.09,42.02 L1273.36,41.52 L1273.64,41.02 L1273.92,40.52 L1274.20,40.02 L1274.48,39.52 L1274.77,39.02 L1275.07,38.52 L1275.36,38.02 L1275.66,37.52 L1275.97,37.02 L1276.27,36.52 L1276.58,36.02 L1276.90,35.52 L1277.22,35.02 L1277.54,34.52 L1277.87,34.02 L1278.20,33.52 L1278.53,33.02 L1278.87,32.52 L1279.21,32.02 L1279.56,31.52 L1279.91,31.02 L1280.26,30.52 L1280.62,30.02 L1280.99,29.52 L1281.35,29.02 L1281.72,28.52 L1282.10,28.02 L1282.47,27.52 L1282.85,27.02 L1283.23,26.52 L1283.61,26.02 L1283.99,25.52 L1284.37,25.02 L1284.75,24.52 L1285.12,24.02 L1285.48,23.52 L1285.83,23.02 L1286.16,22.52 L1286.47,22.02 L1286.73,21.52 L1286.94,21.02 L1287.07,20.52 L1287.10,20.20 L1601.60,14.95" fill="none" stroke-linejoin="round" stroke="#ec1c24" stroke-width="2" stroke-dasharray="2 5.7"/>
<path d="M1240.60,355.00 L1240.99,354.50 L1241.37,354.00 L1241.73,353.50 L1242.09,353.00 L1242.43,352.50 L1242.76,352.00 L1243.08,351.50 L1243.39,351.00 L1243.70,350.50 L1244.00,350.00 L1244.29,349.50 L1244.57,349.00 L1244.84,348.50 L1245.11,348.00 L1245.38,347.50 L1245.64,347.00 L1245.89,346.50 L1246.14,346.00 L1246.39,345.50 L1246.63,345.00 L1246.87,344.50 L1247.10,344.00 L1247.33,343.50 L1247.56,343.00 L1247.78,342.50 L1248.00,342.00 L1248.22,341.50 L1248.43,341.00 L1248.64,340.50 L1248.85,340.00 L1249.06,339.50 L1249.26,339.00 L1249.46,338.50 L1249.66,338.00 L1249.86,337.50 L1250.05,337.00 L1250.24,336.50 L1250.43,336.00 L1250.62,335.50 L1250.81,335.00 L1250.99,334.50 L1251.18,334.00 L1251.36,333.50 L1251.54,333.00 L1251.72,332.50 L1251.89,332.00 L1252.07,331.50 L1252.24,331.00 L1252.42,330.50 L1252.59,330.00 L1252.76,329.50 L1252.93,329.00 L1253.09,328.50 L1253.26,328.00 L1253.43,327.50 L1253.59,327.00 L1253.75,326.50 L1253.91,326.00 L1254.07,325.50 L1254.23,325.00 L1254.39,324.50 L1254.55,324.00 L1254.71,323.50 L1254.86,323.00 L1255.02,322.50 L1255.17,322.00 L1255.32,321.50 L1255.48,321.00 L1255.63,320.50 L1255.78,320.00 L1255.93,319.50 L1256.08,319.00 L1256.22,318.50 L1256.37,318.00 L1256.52,317.50 L1256.66,317.00 L1256.81,316.50 L1256.95,316.00 L1257.10,315.50 L1257.24,315.00 L1257.38,314.50 L1257.52,314.00 L1257.66,313.50 L1257.80,313.00 L1257.94,312.50 L1258.08,312.00 L1258.22,311.50 L1258.36,311.00 L1258.50,310.50 L1258.63,310.00 L1258.77,309.50 L1258.91,309.00 L1259.04,308.50 L1259.18,308.00 L1259.31,307.50 L1259.44,307.00 L1259.58,306.50 L1259.71,306.00 L1259.84,305.50 L1259.97,305.00 L1260.10,304.50 L1260.24,304.00 L1260.37,303.50 L1260.50,303.00 L1260.63,302.50 L1260.75,302.00 L1260.88,301.50 L1261.01,301.00 L1261.14,300.50 L1261.27,300.00 L1261.39,299.50 L1261.52,299.00 L1261.65,298.50 L1261.77,298.00 L1261.90,297.50 L1262.03,297.00 L1262.15,296.50 L1262.27,296.00 L1262.40,295.50 L1262.52,295.00 L1262.65,294.50 L1262.77,294.00 L1262.89,293.50 L1263.02,293.00 L1263.14,292.50 L1263.26,292.00 L1263.38,291.50 L1263.50,291.00 L1263.62,290.50 L1263.75,290.00 L1263.87,289.50 L1263.99,289.00 L1264.11,288.50 L1264.23,288.00 L1264.35,287.50 L1264.47,287.00 L1264.58,286.50 L1264.70,286.00 L1264.82,285.50 L1264.94,285.00 L1265.06,284.50 L1265.18,284.00 L1265.29,283.50 L1265.41,283.00 L1265.53,282.50 L1265.65,282.00 L1265.76,281.50 L1265.88,281.00 L1265.99,280.50 L1266.11,280.00 L1266.23,279.50 L1266.34,279.00 L1266.46,278.50 L1266.57,278.00 L1266.69,277.50 L1266.80,277.00 L1266.92,276.50 L1267.03,276.00 L1267.15,275.50 L1267.26,275.00 L1267.37,274.50 L1267.49,274.00 L1267.60,273.50 L1267.72,273.00 L1267.83,272.50 L1267.94,272.00 L1268.06,271.50 L1268.17,271.00 L1268.28,270.50 L1268.39,270.00 L1268.51,269.50 L1268.62,269.00 L1268.73,268.50 L1268.84,268.00 L1268.95,267.50 L1269.07,267.00 L1269.18,266.50 L1269.29,266.00 L1269.40,265.50 L1269.51,265.00 L1269.62,264.50 L1269.73,264.00 L1269.84,263.50 L1269.95,263.00 L1270.06,262.50 L1270.18,262.00 L1270.29,261.50 L1270.40,261.00 L1270.51,260.50 L1270.62,260.00 L1270.73,259.50 L1270.84,259.00 L1270.94,258.50 L1271.05,258.00 L1271.16,257.50 L1271.27,257.00 L1271.38,256.50 L1271.49,256.00 L1271.60,255.50 L1271.71,255.00 L1271.82,254.50 L1271.93,254.00 L1272.04,253.50 L1272.14,253.00 L1272.25,252.50 L1272.36,252.00 L1272.47,251.50 L1272.58,251.00 L1272.69,250.50 L1272.80,250.00 L1272.90,249.50 L1273.01,249.00 L1273.12,248.50 L1273.23,248.00 L1273.34,247.50 L1273.44,247.00 L1273.55,246.50 L1273.66,246.00 L1273.77,245.50 L1273.87,245.00 L1273.98,244.50 L1274.09,244.00 L1274.20,243.50 L1274.30,243.00 L1274.41,242.50 L1274.52,242.00 L1274.63,241.50 L1274.73,241.00 L1274.84,240.50 L1274.95,240.00 L1275.05,239.50 L1275.16,239.00 L1275.27,238.50 L1275.38,238.00 L1275.48,237.50 L1275.59,237.00 L1275.70,236.50 L1275.80,236.00 L1275.91,235.50 L1276.02,235.00 L1276.12,234.50 L1276.23,234.00 L1276.34,233.50 L1276.44,233.00 L1276.55,232.50 L1276.66,232.00 L1276.76,231.50 L1276.87,231.00 L1276.98,230.50 L1277.08,230.00 L1277.19,229.50 L1277.30,229.00 L1277.40,228.50 L1277.51,228.00 L1277.62,227.50 L1277.72,227.00 L1277.83,226.50 L1277.94,226.00 L1278.04,225.50 L1278.15,225.00 L1278.26,224.50 L1278.36,224.00 L1278.47,223.50 L1278.58,223.00 L1278.68,222.50 L1278.79,222.00 L1278.90,221.50 L1279.00,221.00 L1279.11,220.50 L1279.22,220.00 L1279.32,219.50 L1279.43,219.00 L1279.54,218.50 L1279.64,218.00 L1279.75,217.50 L1279.86,217.00 L1279.97,216.50 L1280.07,216.00 L1280.18,215.50 L1280.29,215.00 L1280.39,214.50 L1280.50,214.00 L1280.61,213.50 L1280.71,213.00 L1280.82,212.50 L1280.93,212.00 L1281.04,211.50 L1281.14,211.00 L1281.25,210.50 L1281.36,210.00 L1281.47,209.50 L1281.57,209.00 L1281.68,208.50 L1281.79,208.00 L1281.89,207.50 L1282.00,207.00 L1282.11,206.50 L1282.22,206.00 L1282.33,205.50 L1282.43,205.00 L1282.54,204.50 L1282.65,204.00 L1282.76,203.50 L1282.87,203.00 L1282.97,202.50 L1283.08,202.00 L1283.19,201.50 L1283.30,201.00 L1283.41,200.50 L1283.51,200.00 L1283.62,199.50 L1283.73,199.00 L1283.84,198.50 L1283.95,198.00 L1284.06,197.50 L1284.17,197.00 L1284.28,196.50 L1284.38,196.00 L1284.49,195.50 L1284.60,195.00 L1284.71,194.50 L1284.82,194.00 L1284.93,193.50 L1285.04,193.00 L1285.15,192.50 L1285.26,192.00 L1285.37,191.50 L1285.48,191.00 L1285.59,190.50 L1285.70,190.00 L1285.81,189.50 L1285.92,189.00 L1286.03,188.50 L1286.14,188.00 L1286.25,187.50 L1286.36,187.00 L1286.47,186.50 L1286.58,186.00 L1286.70,185.50 L1286.81,185.00 L1286.92,184.50 L1287.03,184.00 L1287.14,183.50 L1287.25,183.00 L1287.37,182.50 L1287.48,182.00 L1287.59,181.50 L1287.70,181.00 L1287.81,180.50 L1287.93,180.00 L1288.04,179.50 L1288.15,179.00 L1288.27,178.50 L1288.38,178.00 L1288.49,177.50 L1288.61,177.00 L1288.72,176.50 L1288.84,176.00 L1288.95,175.50 L1289.06,175.00 L1289.18,174.50 L1289.29,174.00 L1289.41,173.50 L1289.52,173.00 L1289.64,172.50 L1289.75,172.00 L1289.87,171.50 L1289.98,171.00 L1290.10,170.50 L1290.22,170.00 L1290.33,169.50 L1290.45,169.00 L1290.57,168.50 L1290.68,168.00 L1290.80,167.50 L1290.92,167.00 L1291.04,166.50 L1291.15,166.00 L1291.27,165.50 L1291.39,165.00 L1291.51,164.50 L1291.63,164.00 L1291.75,163.50 L1291.87,163.00 L1291.99,162.50 L1292.10,162.00 L1292.22,161.50 L1292.35,161.00 L1292.47,160.50 L1292.59,160.00 L1292.71,159.50 L1292.83,159.00 L1292.95,158.50 L1293.07,158.00 L1293.19,157.50 L1293.32,157.00 L1293.44,156.50 L1293.56,156.00 L1293.68,155.50 L1293.81,155.00 L1293.93,154.50 L1294.05,154.00 L1294.18,153.50 L1294.30,153.00 L1294.43,152.50 L1294.55,152.00 L1294.68,151.50 L1294.80,151.00 L1294.93,150.50 L1295.06,150.00 L1295.18,149.50 L1295.31,149.00 L1295.44,148.50 L1295.57,148.00 L1295.69,147.50 L1295.82,147.00 L1295.95,146.50 L1296.08,146.00 L1296.21,145.50 L1296.34,145.00 L1296.47,144.50 L1296.60,144.00 L1296.73,143.50 L1296.86,143.00 L1296.99,142.50 L1297.12,142.00 L1297.26,141.50 L1297.39,141.00 L1297.52,140.50 L1297.65,140.00 L1297.79,139.50 L1297.92,139.00 L1298.06,138.50 L1298.19,138.00 L1298.33,137.50 L1298.46,137.00 L1298.60,136.50 L1298.73,136.00 L1298.87,135.50 L1299.01,135.00 L1299.15,134.50 L1299.29,134.00 L1299.42,133.50 L1299.56,133.00 L1299.70,132.50 L1299.84,132.00 L1299.98,131.50 L1300.12,131.00 L1300.27,130.50 L1300.41,130.00 L1300.55,129.50 L1300.69,129.00 L1300.84,128.50 L1300.98,128.00 L1301.13,127.50 L1301.27,127.00 L1301.42,126.50 L1301.56,126.00 L1301.71,125.50 L1301.86,125.00 L1302.00,124.50 L1302.15,124.00 L1302.30,123.50 L1302.45,123.00 L1302.60,122.50 L1302.75,122.00 L1302.90,121.50 L1303.05,121.00 L1303.20,120.50 L1303.36,120.00 L1303.51,119.50 L1303.66,119.00 L1303.82,118.50 L1303.97,118.00 L1304.13,117.50 L1304.29,117.00 L1304.44,116.50 L1304.60,116.00 L1304.76,115.50 L1304.92,115.00 L1305.08,114.50 L1305.24,114.00 L1305.40,113.50 L1305.56,113.00 L1305.73,112.50 L1305.89,112.00 L1306.05,111.50 L1306.22,111.00 L1306.38,110.50 L1306.55,110.00 L1306.72,109.50 L1306.88,109.00 L1307.05,108.50 L1307.22,108.00 L1307.39,107.50 L1307.56,107.00 L1307.74,106.50 L1307.91,106.00 L1308.08,105.50 L1308.26,105.00 L1308.43,104.50 L1308.61,104.00 L1308.79,103.50 L1308.96,103.00 L1309.14,102.50 L1309.32,102.00 L1309.50,101.50 L1309.68,101.00 L1309.87,100.50 L1310.05,100.00 L1310.24,99.50 L1310.42,99.00 L1310.61,98.50 L1310.79,98.00 L1310.98,97.50 L1311.17,97.00 L1311.36,96.50 L1311.56,96.00 L1311.75,95.50 L1311.94,95.00 L1312.14,94.50 L1312.33,94.00 L1312.53,93.50 L1312.73,93.00 L1312.93,92.50 L1313.13,92.00 L1313.33,91.50 L1313.54,91.00 L1313.74,90.50 L1313.95,90.00 L1314.16,89.50 L1314.36,89.00 L1314.57,88.50 L1314.79,88.00 L1315.00,87.50 L1315.21,87.00 L1315.43,86.50 L1315.64,86.00 L1315.86,85.50 L1316.08,85.00 L1316.30,84.50 L1316.53,84.00 L1316.75,83.50 L1316.98,83.00 L1317.21,82.50 L1317.44,82.00 L1317.67,81.50 L1317.90,81.00 L1318.13,80.50 L1318.37,80.00 L1318.61,79.50 L1318.85,79.00 L1319.09,78.50 L1319.33,78.00 L1319.58,77.50 L1319.83,77.00 L1320.07,76.50 L1320.33,76.00 L1320.58,75.50 L1320.83,75.00 L1321.09,74.50 L1321.35,74.00 L1321.61,73.50 L1321.88,73.00 L1322.14,72.50 L1322.41,72.00 L1322.68,71.50 L1322.95,71.00 L1323.23,70.50 L1323.51,70.00 L1323.79,69.50 L1324.07,69.00 L1324.35,68.50 L1324.64,68.00 L1324.93,67.50 L1325.22,67.00 L1325.52,66.50 L1325.81,66.00 L1326.11,65.50 L1326.42,65.00 L1326.72,64.50 L1327.03,64.00 L1327.34,63.50 L1327.66,63.00 L1327.98,62.50 L1328.30,62.00 L1328.62,61.50 L1328.95,61.00 L1329.28,60.50 L1329.61,60.00 L1329.95,59.50 L1330.29,59.00 L1330.64,58.50 L1330.98,58.00 L1331.34,57.50 L1331.69,57.00 L1332.05,56.50 L1332.41,56.00 L1332.78,55.50 L1333.15,55.00 L1333.53,54.50 L1333.91,54.00 L1334.29,53.50 L1334.68,53.00 L1335.07,52.50 L1335.47,52.00 L1335.87,51.50 L1336.27,51.00 L1336.69,50.50 L1337.10,50.00 L1337.52,49.50 L1337.95,49.00 L1338.38,48.50 L1338.82,48.00 L1339.26,47.50 L1339.71,47.00 L1340.16,46.50 L1340.62,46.00 L1341.09,45.50 L1341.56,45.00 L1342.04,44.50 L1342.53,44.00 L1343.02,43.50 L1343.52,43.00 L1344.02,42.50 L1344.54,42.00 L1345.06,41.50 L1345.59,41.00 L1346.12,40.50 L1346.67,40.00 L1347.22,39.50 L1347.78,39.00 L1348.35,38.50 L1348.93,38.00 L1349.52,37.50 L1350.12,37.00 L1350.73,36.50 L1351.36,36.00 L1351.99,35.50 L1352.63,35.00 L1353.29,34.50 L1353.95,34.00 L1354.63,33.50 L1355.33,33.00 L1356.03,32.50 L1356.75,32.00 L1357.47,31.51 L1358.19,31.03 L1358.91,30.56 L1359.63,30.11 L1360.35,29.65 L1361.07,29.21 L1361.79,28.78 L1362.51,28.36 L1363.23,27.94 L1363.95,27.54 L1364.67,27.14 L1365.39,26.75 L1366.11,26.37 L1366.83,26.00 L1367.55,25.63 L1368.27,25.27 L1368.99,24.92 L1369.71,24.57 L1370.43,24.24 L1371.15,23.91 L1371.87,23.58 L1372.59,23.27 L1373.31,22.95 L1374.03,22.65 L1374.75,22.35 L1375.46,22.06 L1376.18,21.77 L1376.90,21.48 L1377.62,21.20 L1378.34,20.93 L1379.05,20.66 L1379.77,20.39 L1380.01,20.30 L1601.60,14.95" fill="none" stroke-linejoin="round" stroke="#ec1c24" stroke-width="2" stroke-dasharray="2 5.7"/>
<text x="1208.80" y="371.7" font-family="Liberation Sans, Arial, Helvetica, sans-serif" font-weight="bold" font-size="21.0" fill="#e8222c" textLength="147.40" lengthAdjust="spacingAndGlyphs">HC<tspan dy="3.4" font-size="13.2" dx="0.6">5</tspan><tspan dy="-3.4" dx="2.6"> = 0.55 µg/L</tspan></text>
<text x="1402.00" y="226.90" font-family="Liberation Sans, Arial, Helvetica, sans-serif" font-weight="bold" font-size="19.30" fill="#000" textLength="42.4" lengthAdjust="spacingAndGlyphs">level</text>
<rect x="1406.50" y="243.80" width="11.00" height="11.00" fill="#4f5bb1"/>
<text x="1432.40" y="256.10" font-family="Liberation Sans, Arial, Helvetica, sans-serif" font-weight="bold" font-size="19.00" fill="#000" textLength="53.80" lengthAdjust="spacingAndGlyphs">Algae</text>
<circle cx="1412.00" cy="270.50" r="5.5" fill="#d03b33"/>
<text x="1432.40" y="277.30" font-family="Liberation Sans, Arial, Helvetica, sans-serif" font-weight="bold" font-size="19.00" fill="#000" textLength="95.80" lengthAdjust="spacingAndGlyphs">Arthropod</text>
<polygon points="1412.00,283.27 1404.70,295.91 1419.30,295.91" fill="#6f9d5c"/>
<text x="1432.40" y="298.50" font-family="Liberation Sans, Arial, Helvetica, sans-serif" font-weight="bold" font-size="19.00" fill="#000" textLength="78.20" lengthAdjust="spacingAndGlyphs">Bacteria</text>
<polygon points="1412.00,307.50 1417.40,312.90 1412.00,318.30 1406.60,312.90" fill="#ebe483"/>
<text x="1432.40" y="319.70" font-family="Liberation Sans, Arial, Helvetica, sans-serif" font-weight="bold" font-size="19.00" fill="#000" textLength="74.20" lengthAdjust="spacingAndGlyphs">Mollusk</text>
</g>
<rect x="1096.30" y="0" width="438.70" height="1" fill="#dcdcdc"/>
<line x1="1097.20" y1="0" x2="1097.20" y2="381.90" stroke="#999999" stroke-width="1.80"/>
<line x1="1534.50" y1="0" x2="1534.50" y2="381.90" stroke="#d8d8d8" stroke-width="1.00"/>
<line x1="1096.30" y1="381.55" x2="1535.00" y2="381.55" stroke="#3a3a3a" stroke-width="1.1"/>
</g>
</svg>
</body>
</html>
